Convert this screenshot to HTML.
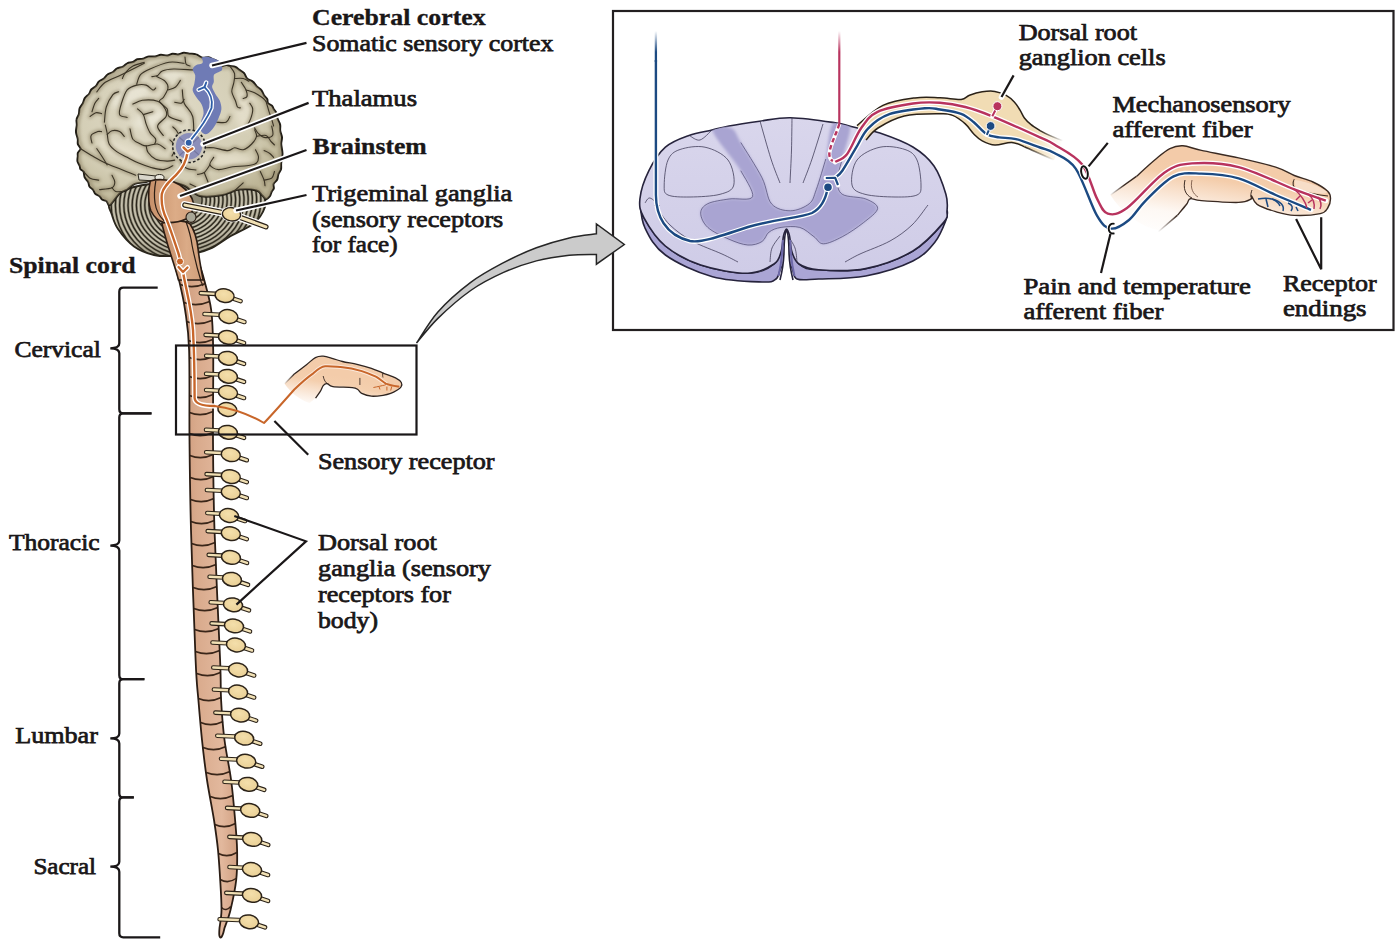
<!DOCTYPE html>
<html><head><meta charset="utf-8"><title>Somatosensory pathway</title>
<style>html,body{margin:0;padding:0;background:#fff;width:1400px;height:948px;overflow:hidden}</style>
</head><body>
<svg width="1400" height="948" viewBox="0 0 1400 948" style="display:block" font-family='"Liberation Serif", serif' fill="#1a1718"><defs>
<linearGradient id="cordg" x1="0" x2="1" y1="0" y2="0">
<stop offset="0" stop-color="#c89273"/><stop offset="0.35" stop-color="#d9aa8c"/><stop offset="0.75" stop-color="#e2b89d"/><stop offset="1" stop-color="#d2a183"/>
</linearGradient>
<radialGradient id="braing" cx="0.42" cy="0.4" r="0.65">
<stop offset="0" stop-color="#e0dbc8"/><stop offset="0.7" stop-color="#d3cdb4"/><stop offset="1" stop-color="#bdb596"/>
</radialGradient>
<linearGradient id="skin1" x1="0.02" y1="1" x2="0.3" y2="0.35">
<stop offset="0" stop-color="#f6d7bd" stop-opacity="0"/><stop offset="0.75" stop-color="#f4cfae"/><stop offset="1" stop-color="#f3ccaa"/>
</linearGradient>
<linearGradient id="drg" x1="0" x2="1" y1="0" y2="0">
<stop offset="0" stop-color="#f1dcb4"/><stop offset="0.85" stop-color="#f1dcb4"/><stop offset="1" stop-color="#f1dcb4" stop-opacity="0"/>
</linearGradient>
<linearGradient id="skin2" x1="0.0" y1="1" x2="0.32" y2="0.2">
<stop offset="0" stop-color="#f6d3b6" stop-opacity="0"/><stop offset="0.35" stop-color="#f6d3b6" stop-opacity="0.15"/><stop offset="0.85" stop-color="#f4cdab"/><stop offset="1" stop-color="#f3cba9"/>
</linearGradient>
<linearGradient id="wm" x1="0" x2="0" y1="0" y2="1">
<stop offset="0" stop-color="#d9d6ec"/><stop offset="1" stop-color="#cfcce7"/>
</linearGradient>
<radialGradient id="gang" cx="0.45" cy="0.4" r="0.6">
<stop offset="0" stop-color="#f4dfab"/><stop offset="1" stop-color="#eaD096"/>
</radialGradient>
<linearGradient id="ponsg" x1="0" x2="1" y1="0" y2="0">
<stop offset="0" stop-color="#c68f69"/><stop offset="0.6" stop-color="#dcac87"/><stop offset="1" stop-color="#d29f7a"/>
</linearGradient>
<linearGradient id="medg" x1="0" x2="1" y1="0" y2="0">
<stop offset="0" stop-color="#c38b66"/><stop offset="0.6" stop-color="#dbab87"/><stop offset="1" stop-color="#d09d78"/>
</linearGradient>
<filter id="blur15" x="-20%" y="-20%" width="140%" height="140%"><feGaussianBlur stdDeviation="1.6"/></filter>
<linearGradient id="fadeb" gradientUnits="userSpaceOnUse" x1="0" y1="31" x2="0" y2="52">
<stop offset="0" stop-color="#1c4a82" stop-opacity="0"/><stop offset="1" stop-color="#1c4a82"/>
</linearGradient>
<linearGradient id="fader" gradientUnits="userSpaceOnUse" x1="0" y1="31" x2="0" y2="52">
<stop offset="0" stop-color="#b8335e" stop-opacity="0"/><stop offset="1" stop-color="#b8335e"/>
</linearGradient>
<linearGradient id="fadeL" gradientUnits="userSpaceOnUse" x1="284" y1="384" x2="294" y2="374">
<stop offset="0" stop-color="#2e2420" stop-opacity="0"/><stop offset="1" stop-color="#2e2420"/>
</linearGradient>
<linearGradient id="fadeR" gradientUnits="userSpaceOnUse" x1="1110" y1="195" x2="1124" y2="185">
<stop offset="0" stop-color="#3a2a22" stop-opacity="0"/><stop offset="1" stop-color="#3a2a22"/>
</linearGradient>
<linearGradient id="fadeD1" gradientUnits="userSpaceOnUse" x1="1040" y1="130" x2="1063" y2="141">
<stop offset="0" stop-color="#2b2218"/><stop offset="1" stop-color="#2b2218" stop-opacity="0"/>
</linearGradient>
<linearGradient id="fadeD2" gradientUnits="userSpaceOnUse" x1="1024" y1="146" x2="1054" y2="160">
<stop offset="0" stop-color="#2b2218"/><stop offset="1" stop-color="#2b2218" stop-opacity="0"/>
</linearGradient>
<linearGradient id="fadeR2" gradientUnits="userSpaceOnUse" x1="1177" y1="215" x2="1158" y2="232">
<stop offset="0" stop-color="#3a2a22"/><stop offset="1" stop-color="#3a2a22" stop-opacity="0"/>
</linearGradient>
<filter id="blur1" x="-20%" y="-20%" width="140%" height="140%"><feGaussianBlur stdDeviation="1.5"/></filter>
<filter id="blur3" x="-50%" y="-50%" width="200%" height="200%"><feGaussianBlur stdDeviation="3"/></filter>
</defs><rect x="613" y="11" width="780.5" height="319" fill="none" stroke="#231f20" stroke-width="2.2"/><path d="M640.2,203.0 C640.4,204.7 640.8,219.3 645.0,228.0 C649.2,236.7 654.1,246.9 665.4,255.0 C676.6,263.1 696.4,272.2 712.5,276.7 C728.6,281.2 751.4,281.6 762.0,282.0 C772.6,282.4 772.8,281.3 776.0,279.0 C779.2,276.7 779.2,270.8 781.0,268.0 C782.8,265.2 784.7,262.0 786.5,262.0 C788.3,262.0 790.2,265.2 792.0,268.0 C793.8,270.8 792.6,277.2 797.0,279.0 C801.4,280.8 807.1,279.5 818.6,279.0 C830.1,278.5 850.0,279.0 865.7,276.0 C881.4,273.0 901.4,266.7 912.9,261.0 C924.4,255.3 929.5,248.8 935.0,242.0 C940.5,235.2 944.0,225.2 946.0,220.0 C948.0,214.8 947.4,210.4 947.0,210.8 C946.6,211.2 949.2,215.9 943.5,222.6 C937.8,229.3 925.9,243.3 912.9,251.0 C899.9,258.7 881.4,265.5 865.7,268.6 C850.0,271.7 829.7,270.6 818.6,269.8 C807.5,269.0 804.4,269.0 799.0,264.0 C793.6,259.0 790.7,240.0 786.5,240.0 C782.3,240.0 780.4,258.4 774.0,264.0 C767.6,269.6 760.1,273.1 747.9,273.3 C735.7,273.5 714.5,269.6 700.7,265.0 C687.0,260.4 674.9,253.8 665.4,246.0 C655.9,238.2 648.2,225.1 644.0,217.9 C639.8,210.7 640.0,201.3 640.2,203.0 Z" fill="#aaa5d5" stroke="#26233c" stroke-width="1.6"/><path d="M639.9,199.0 C640.7,191.1 644.6,179.3 648.9,170.7 C653.1,162.0 658.7,153.0 665.4,147.1 C672.1,141.2 681.2,138.2 689.0,135.4 C696.8,132.6 705.3,131.6 712.0,130.0 C718.7,128.4 721.1,127.5 729.0,126.0 C736.9,124.5 749.4,122.6 759.6,121.2 C769.8,119.8 778.1,117.5 790.3,117.7 C802.5,117.9 821.3,120.6 832.7,122.4 C844.1,124.2 850.7,126.5 858.6,128.3 C866.5,130.1 870.9,129.9 879.9,133.0 C888.9,136.1 903.9,141.5 912.9,147.0 C921.9,152.5 928.5,158.1 934.0,166.0 C939.5,173.9 943.7,186.8 945.9,194.3 C948.1,201.8 947.4,206.1 947.0,210.8 C946.6,215.5 949.2,215.9 943.5,222.6 C937.8,229.3 925.9,243.3 912.9,251.0 C899.9,258.7 881.4,265.5 865.7,268.6 C850.0,271.7 829.7,270.6 818.6,269.8 C807.5,269.0 803.4,267.0 799.0,264.0 C794.6,261.0 793.6,256.7 792.0,252.0 C790.4,247.3 790.4,239.8 789.5,236.0 C788.6,232.2 787.5,229.0 786.5,229.0 C785.5,229.0 784.4,232.2 783.5,236.0 C782.6,239.8 782.6,247.3 781.0,252.0 C779.4,256.7 779.5,260.4 774.0,264.0 C768.5,267.6 760.1,273.1 747.9,273.3 C735.7,273.5 714.5,269.6 700.7,265.0 C687.0,260.4 674.9,253.8 665.4,246.0 C655.9,238.2 648.2,225.7 644.0,217.9 C639.8,210.1 639.1,206.9 639.9,199.0 Z" fill="url(#wm)" stroke="#26233c" stroke-width="1.6"/><clipPath id="topclip"><path d="M639.9,199.0 C640.7,191.1 644.6,179.3 648.9,170.7 C653.1,162.0 658.7,153.0 665.4,147.1 C672.1,141.2 681.2,138.2 689.0,135.4 C696.8,132.6 705.3,131.6 712.0,130.0 C718.7,128.4 721.1,127.5 729.0,126.0 C736.9,124.5 749.4,122.6 759.6,121.2 C769.8,119.8 778.1,117.5 790.3,117.7 C802.5,117.9 821.3,120.6 832.7,122.4 C844.1,124.2 850.7,126.5 858.6,128.3 C866.5,130.1 870.9,129.9 879.9,133.0 C888.9,136.1 903.9,141.5 912.9,147.0 C921.9,152.5 928.5,158.1 934.0,166.0 C939.5,173.9 943.7,186.8 945.9,194.3 C948.1,201.8 947.4,206.1 947.0,210.8 C946.6,215.5 949.2,215.9 943.5,222.6 C937.8,229.3 925.9,243.3 912.9,251.0 C899.9,258.7 881.4,265.5 865.7,268.6 C850.0,271.7 829.7,270.6 818.6,269.8 C807.5,269.0 803.4,267.0 799.0,264.0 C794.6,261.0 793.6,256.7 792.0,252.0 C790.4,247.3 790.4,239.8 789.5,236.0 C788.6,232.2 787.5,229.0 786.5,229.0 C785.5,229.0 784.4,232.2 783.5,236.0 C782.6,239.8 782.6,247.3 781.0,252.0 C779.4,256.7 779.5,260.4 774.0,264.0 C768.5,267.6 760.1,273.1 747.9,273.3 C735.7,273.5 714.5,269.6 700.7,265.0 C687.0,260.4 674.9,253.8 665.4,246.0 C655.9,238.2 648.2,225.7 644.0,217.9 C639.8,210.1 639.1,206.9 639.9,199.0 Z"/></clipPath><g clip-path="url(#topclip)"><path d="M712.5,130.6 C710.9,123.5 726.7,126.3 731.4,128.3 C736.1,130.3 735.7,134.2 740.8,142.5 C745.9,150.8 756.9,167.6 762.0,177.8 C767.1,188.0 766.8,198.3 771.5,203.8 C776.2,209.3 784.1,210.8 790.4,210.8 C796.7,210.8 804.9,207.3 809.2,203.8 C813.5,200.3 813.5,197.1 816.3,189.6 C819.1,182.1 823.0,170.0 825.8,159.0 C828.5,148.0 828.8,129.1 832.8,123.6 C836.8,118.1 848.5,119.9 850.0,126.0 C851.5,132.1 844.1,151.0 842.0,160.0 C839.9,169.0 837.5,174.3 837.5,180.0 C837.5,185.7 837.6,191.1 842.3,194.3 C847.0,197.5 859.9,196.6 865.8,199.0 C871.7,201.4 878.0,204.6 877.6,208.5 C877.2,212.4 869.4,217.9 863.5,222.6 C857.6,227.3 849.0,233.2 842.3,236.7 C835.6,240.2 828.1,243.8 823.4,243.8 C818.7,243.8 817.9,239.4 814.0,236.7 C810.1,234.0 805.3,228.9 799.8,227.4 C794.3,225.9 786.1,226.6 781.0,227.4 C775.9,228.2 772.3,229.7 769.1,232.0 C765.9,234.3 765.5,239.3 762.0,241.5 C758.5,243.7 753.4,245.4 747.9,245.0 C742.4,244.6 735.7,242.1 729.0,239.2 C722.3,236.3 712.5,231.7 707.8,227.4 C703.1,223.1 700.7,217.1 700.7,213.2 C700.7,209.2 703.1,206.1 707.8,203.7 C712.5,201.3 721.5,200.2 729.0,199.0 C736.5,197.8 750.6,201.4 752.6,196.7 C754.6,192.0 747.5,181.7 740.8,170.7 C734.1,159.7 714.1,137.7 712.5,130.6 Z" fill="#a9a4d2" stroke="none" filter="url(#blur1)"/></g><path d="M740.8,142.5 C744.3,148.4 756.9,167.6 762.0,177.8 C767.1,188.0 766.8,198.3 771.5,203.8 C776.2,209.3 784.1,210.8 790.4,210.8 C796.7,210.8 804.9,207.3 809.2,203.8 C813.5,200.3 813.5,197.1 816.3,189.6 C819.1,182.1 824.2,164.1 825.8,159.0" fill="none" stroke="#4a4670" stroke-width="0.7"/><path d="M842.0,160.0 C841.2,163.3 837.5,174.3 837.5,180.0 C837.5,185.7 837.6,191.1 842.3,194.3 C847.0,197.5 859.9,196.6 865.8,199.0 C871.7,201.4 878.0,204.6 877.6,208.5 C877.2,212.4 869.4,217.9 863.5,222.6 C857.6,227.3 849.0,233.2 842.3,236.7 C835.6,240.2 828.1,243.8 823.4,243.8 C818.7,243.8 817.9,239.4 814.0,236.7 C810.1,234.0 805.3,228.9 799.8,227.4 C794.3,225.9 786.1,226.6 781.0,227.4 C775.9,228.2 772.3,229.7 769.1,232.0 C765.9,234.3 765.5,239.3 762.0,241.5 C758.5,243.7 753.4,245.4 747.9,245.0 C742.4,244.6 735.7,242.1 729.0,239.2 C722.3,236.3 712.5,231.7 707.8,227.4 C703.1,223.1 700.7,217.1 700.7,213.2 C700.7,209.2 703.1,206.1 707.8,203.7 C712.5,201.3 721.5,200.2 729.0,199.0 C736.5,197.8 750.6,201.4 752.6,196.7 C754.6,192.0 742.8,175.0 740.8,170.7" fill="none" stroke="#4a4670" stroke-width="0.7"/><path d="M664.2,185.0 C664.2,179.2 665.4,165.9 668.0,160.0 C670.6,154.1 673.8,151.6 680.0,149.5 C686.2,147.4 697.0,145.4 705.0,147.2 C713.0,148.9 723.2,153.7 728.0,160.0 C732.8,166.3 735.1,179.3 733.8,185.0 C732.5,190.7 727.3,192.3 720.0,194.3 C712.7,196.3 698.7,196.9 690.0,197.0 C681.3,197.1 672.3,197.0 668.0,195.0 C663.7,193.0 664.2,190.8 664.2,185.0 Z" fill="none" stroke="#3a3652" stroke-width="0.75"/><path d="M921.0,185.0 C921.0,179.2 919.7,165.9 917.0,160.0 C914.3,154.1 911.2,151.6 905.0,149.5 C898.8,147.4 888.0,145.4 880.0,147.2 C872.0,148.9 861.7,153.7 857.0,160.0 C852.3,166.3 850.7,179.3 852.0,185.0 C853.3,190.7 857.8,192.3 865.0,194.3 C872.2,196.3 886.3,196.9 895.0,197.0 C903.7,197.1 912.7,197.0 917.0,195.0 C921.3,193.0 921.0,190.8 921.0,185.0 Z" fill="none" stroke="#3a3652" stroke-width="0.75"/><path d="M654.6,205.0 C657.2,208.3 663.8,219.0 670.0,225.0 C676.2,231.0 683.3,236.2 692.0,241.0 C700.7,245.8 714.3,250.5 722.0,254.0 C729.7,257.5 735.3,260.7 738.0,262.0" fill="none" stroke="#3a3652" stroke-width="0.75"/><path d="M928.0,205.0 C925.3,208.3 918.3,219.0 912.0,225.0 C905.7,231.0 898.7,236.2 890.0,241.0 C881.3,245.8 867.5,250.5 860.0,254.0 C852.5,257.5 847.5,260.7 845.0,262.0" fill="none" stroke="#3a3652" stroke-width="0.75"/><path d="M645.0,203.0 C645.8,202.2 647.5,197.5 650.0,198.0 C652.5,198.5 658.3,204.7 660.0,206.0" fill="none" stroke="#3a3652" stroke-width="0.75"/><path d="M760.0,121.0 C761.8,127.3 767.7,148.7 771.0,159.0 C774.3,169.3 778.5,179.0 780.0,183.0" fill="none" stroke="#3a3652" stroke-width="0.75"/><path d="M792.0,118.0 C791.9,123.3 791.8,139.2 791.5,150.0 C791.2,160.8 790.2,177.5 790.0,183.0" fill="none" stroke="#3a3652" stroke-width="0.75"/><path d="M823.0,124.0 C821.2,129.8 815.3,149.2 812.0,159.0 C808.7,168.8 804.5,179.0 803.0,183.0" fill="none" stroke="#3a3652" stroke-width="0.75"/><path d="M770.0,262.0 C770.3,259.7 770.3,252.3 772.0,248.0 C773.7,243.7 778.7,238.0 780.0,236.0" fill="none" stroke="#3a3652" stroke-width="0.75"/><path d="M797.0,262.0 C796.7,259.7 796.5,252.3 795.0,248.0 C793.5,243.7 789.2,238.0 788.0,236.0" fill="none" stroke="#3a3652" stroke-width="0.75"/><path d="M690.0,136.0 C691.7,136.7 696.3,141.0 700.0,140.0 C703.7,139.0 710.0,131.7 712.0,130.0" fill="none" stroke="#3a3652" stroke-width="0.75"/><path d="M786.5,230 C784.5,233 784.2,240 784,252 C783.8,262 782,272 780,280 L793,280 C791,272 789.2,262 789,252 C788.8,240 788.5,233 786.5,230 Z" fill="#fff"/><path d="M780,280 C782,272 783.8,262 784,252 C784.2,240 784.5,233 786.5,230 C788.5,233 788.8,240 789,252 C789.2,262 791,272 793,280" fill="none" stroke="#26233c" stroke-width="1.6"/><path d="M782.8,240 C782.5,252 781.5,264 778.5,276" fill="none" stroke="#6d68a8" stroke-width="2"/><path d="M790.2,240 C790.5,252 791.5,264 794.5,276" fill="none" stroke="#6d68a8" stroke-width="2"/><path d="M857.0,125.7 C861.3,122.3 873.2,110.0 882.9,105.4 C892.6,100.8 905.5,99.2 915.0,97.9 C924.5,96.6 932.3,97.5 940.0,97.7 C947.7,98.0 956.2,99.8 961.1,99.4 C966.0,99.0 966.0,96.5 969.5,95.2 C973.0,93.9 978.0,92.4 982.2,91.8 C986.4,91.2 991.0,90.8 994.9,91.4 C998.8,92.0 1002.6,93.5 1005.8,95.2 C1009.0,97.0 1011.9,99.4 1014.3,101.9 C1016.7,104.4 1018.5,107.7 1020.2,110.4 C1021.9,113.1 1022.6,115.6 1024.4,118.0 C1026.2,120.4 1028.5,122.6 1031.1,124.7 C1033.7,126.8 1034.7,127.9 1040.0,130.6 C1045.3,133.3 1059.0,139.0 1062.8,140.7 L1054.0,160.0 C1049.1,157.8 1031.5,149.6 1024.4,146.7 C1017.4,143.8 1016.6,142.7 1011.7,142.4 C1006.8,142.1 999.8,145.3 994.9,145.0 C990.0,144.7 985.7,142.6 982.2,140.8 C978.7,139.0 976.6,136.8 973.8,134.0 C971.0,131.2 968.8,127.0 965.3,123.9 C961.8,120.8 956.9,117.1 952.7,115.4 C948.5,113.7 948.1,113.7 940.0,113.8 C931.9,113.9 914.6,113.6 904.3,116.0 C894.0,118.4 884.4,124.0 878.0,128.0 C871.6,132.0 868.0,138.0 866.0,140.0 Z" fill="url(#drg)" stroke="none"/><path d="M857.0,125.7 C861.3,122.3 873.2,110.0 882.9,105.4 C892.6,100.8 905.5,99.2 915.0,97.9 C924.5,96.6 932.3,97.5 940.0,97.7 C947.7,98.0 956.2,99.8 961.1,99.4 C966.0,99.0 966.0,96.5 969.5,95.2 C973.0,93.9 978.0,92.4 982.2,91.8 C986.4,91.2 991.0,90.8 994.9,91.4 C998.8,92.0 1002.6,93.5 1005.8,95.2 C1009.0,97.0 1011.9,99.4 1014.3,101.9 C1016.7,104.4 1018.5,107.7 1020.2,110.4 C1021.9,113.1 1022.6,115.6 1024.4,118.0 C1026.2,120.4 1028.5,122.6 1031.1,124.7 C1033.7,126.8 1038.5,129.6 1040.0,130.6" fill="none" stroke="#2b2218" stroke-width="1.5"/><path d="M1024.4,146.7 C1022.3,146.0 1016.6,142.7 1011.7,142.4 C1006.8,142.1 999.8,145.3 994.9,145.0 C990.0,144.7 985.7,142.6 982.2,140.8 C978.7,139.0 976.6,136.8 973.8,134.0 C971.0,131.2 968.8,127.0 965.3,123.9 C961.8,120.8 956.9,117.1 952.7,115.4 C948.5,113.7 948.1,113.7 940.0,113.8 C931.9,113.9 914.6,113.6 904.3,116.0 C894.0,118.4 884.4,124.0 878.0,128.0 C871.6,132.0 868.0,138.0 866.0,140.0" fill="none" stroke="#2b2218" stroke-width="1.5"/><path d="M1040,130.6 C1046,134 1054,137.5 1062.8,140.7" fill="none" stroke="url(#fadeD1)" stroke-width="1.5"/><path d="M1024.4,146.7 C1032,150 1043,155 1054,160" fill="none" stroke="url(#fadeD2)" stroke-width="1.5"/><path d="M1110.4,195.0 C1114.7,191.9 1129.0,182.3 1136.4,176.4 C1143.8,170.5 1149.4,164.3 1155.0,159.7 C1160.6,155.1 1165.2,150.9 1169.9,148.6 C1174.6,146.3 1177.7,145.5 1182.9,145.8 C1188.2,146.1 1192.1,148.4 1201.4,150.4 C1210.7,152.4 1226.2,155.1 1238.6,157.9 C1251.0,160.7 1266.4,164.2 1275.7,167.1 C1285.0,170.0 1288.1,173.0 1294.3,175.5 C1300.5,178.0 1307.3,179.4 1312.9,182.0 C1318.5,184.6 1324.8,188.5 1327.7,191.3 C1330.6,194.1 1330.5,195.9 1330.5,198.7 C1330.5,201.5 1329.4,205.5 1327.7,208.0 C1326.0,210.5 1325.9,212.4 1320.3,213.6 C1314.7,214.8 1301.7,215.7 1294.3,215.4 C1286.9,215.1 1281.9,213.5 1275.7,211.7 C1269.5,209.8 1261.1,206.9 1257.1,204.3 C1253.1,201.7 1252.6,196.9 1251.6,196.0 C1250.6,195.1 1253.2,197.9 1251.0,199.0 C1248.8,200.1 1246.9,202.1 1238.6,202.4 C1230.3,202.7 1209.5,201.2 1201.4,200.6 C1193.4,200.0 1192.8,198.1 1190.3,198.7 C1187.8,199.3 1188.8,201.5 1186.6,204.3 C1184.4,207.1 1181.6,211.1 1177.3,215.4 C1173.0,219.7 1163.4,227.8 1160.6,230.3 C1140,228 1120,210 1110.4,195 Z" fill="url(#skin2)" stroke="none"/><path d="M1136.4,176.4 C1139.5,173.6 1149.4,164.3 1155.0,159.7 C1160.6,155.1 1165.2,150.9 1169.9,148.6 C1174.6,146.3 1177.7,145.5 1182.9,145.8 C1188.2,146.1 1192.1,148.4 1201.4,150.4 C1210.7,152.4 1226.2,155.1 1238.6,157.9 C1251.0,160.7 1266.4,164.2 1275.7,167.1 C1285.0,170.0 1288.1,173.0 1294.3,175.5 C1300.5,178.0 1307.3,179.4 1312.9,182.0 C1318.5,184.6 1324.8,188.5 1327.7,191.3 C1330.6,194.1 1330.5,195.9 1330.5,198.7 C1330.5,201.5 1329.4,205.5 1327.7,208.0 C1326.0,210.5 1325.9,212.4 1320.3,213.6 C1314.7,214.8 1301.7,215.7 1294.3,215.4 C1286.9,215.1 1281.9,213.5 1275.7,211.7 C1269.5,209.8 1261.1,206.9 1257.1,204.3 C1253.1,201.7 1252.6,196.9 1251.6,196.0 C1250.6,195.1 1253.2,197.9 1251.0,199.0 C1248.8,200.1 1246.9,202.1 1238.6,202.4 C1230.3,202.7 1209.5,201.2 1201.4,200.6 C1193.4,200.0 1192.8,198.1 1190.3,198.7 C1187.8,199.3 1188.8,201.5 1186.6,204.3 C1184.4,207.1 1178.8,213.6 1177.3,215.4" fill="none" stroke="#3a2a22" stroke-width="1.4"/><path d="M1110.4,195 L1136.4,176.4" stroke="url(#fadeR)" stroke-width="1.4"/><path d="M1177.3,215.4 L1158,232" stroke="url(#fadeR2)" stroke-width="1.4"/><path d="M1294.3,179.2 C1292,183 1293,187 1296,189 C1305,192 1318,195 1328,196" fill="none" stroke="#3a2a22" stroke-width="1.1"/><path d="M1294.3,180 C1305,181 1320,186 1327,192 C1326,196 1310,192 1296,189 Z" fill="#f7e2d0" opacity="0.8"/><path d="M1185,180 C1183,188 1185,195 1192,198" fill="none" stroke="#3a2a22" stroke-width="1"/><path d="M1192,180 C1190,188 1193,194 1198,197" fill="none" stroke="#6a4a3a" stroke-width="0.8"/><path d="M1252,190 C1250,195 1251,198 1252,199" fill="none" stroke="#3a2a22" stroke-width="1"/><path d="M655.9,60 L655.9,195 C656,215 665,235 690,241 C700,243 715,238 748,227 C775,219 800,218 812,213 C822,208 826,198 828,187" fill="none" stroke="#fff" stroke-width="5" stroke-linecap="round" stroke-linejoin="round"/><path d="M655.9,60 L655.9,195 C656,215 665,235 690,241 C700,243 715,238 748,227 C775,219 800,218 812,213 C822,208 826,198 828,187" fill="none" stroke="#1c4a82" stroke-width="2.4" stroke-linecap="butt" stroke-linejoin="round"/><path d="M655.9,31 L655.9,62" stroke="url(#fadeb)" stroke-width="2.3"/><circle cx="828" cy="187.2" r="4.4" fill="#1c4a82" stroke="#fff" stroke-width="1.2"/><path d="M835.2,177.8 C836.4,176.6 838.8,175.8 842.3,170.7 C845.8,165.6 852.1,154.3 856.4,147.2 C860.7,140.1 862.7,133.8 868.2,128.3 C873.7,122.8 880.0,117.5 889.4,114.2 C898.8,110.9 916.4,109.1 924.8,108.3 C933.2,107.5 934.0,108.6 940.0,109.5 C946.0,110.4 955.5,111.7 961.1,113.8 C966.7,115.9 969.6,118.8 973.8,122.2 C978.0,125.6 982.2,131.5 986.4,134.0 C990.6,136.5 994.2,136.6 999.1,137.4 C1004.0,138.2 1009.2,137.4 1016.0,139.1 C1022.8,140.8 1033.6,145.2 1040.0,147.5 C1046.4,149.8 1048.3,149.5 1054.3,153.0 C1060.2,156.5 1068.6,158.2 1075.7,168.6 C1082.8,179.0 1091.1,205.7 1097.0,215.7 C1102.9,225.7 1105.7,227.9 1111.0,228.6 C1116.3,229.3 1123.2,224.7 1129.0,220.0 C1134.8,215.3 1138.3,207.9 1145.7,200.6 C1153.1,193.3 1164.3,180.9 1173.6,176.4 C1182.9,171.9 1190.6,173.3 1201.4,173.6 C1212.2,173.9 1226.2,174.7 1238.6,178.3 C1251.0,181.9 1263.6,189.8 1275.7,195.0 C1287.8,200.2 1305.1,207.3 1311.0,209.8" fill="none" stroke="#fff" stroke-width="5" stroke-linecap="round" stroke-linejoin="round"/><path d="M835.2,177.8 C836.4,176.6 838.8,175.8 842.3,170.7 C845.8,165.6 852.1,154.3 856.4,147.2 C860.7,140.1 862.7,133.8 868.2,128.3 C873.7,122.8 880.0,117.5 889.4,114.2 C898.8,110.9 916.4,109.1 924.8,108.3 C933.2,107.5 934.0,108.6 940.0,109.5 C946.0,110.4 955.5,111.7 961.1,113.8 C966.7,115.9 969.6,118.8 973.8,122.2 C978.0,125.6 982.2,131.5 986.4,134.0 C990.6,136.5 994.2,136.6 999.1,137.4 C1004.0,138.2 1009.2,137.4 1016.0,139.1 C1022.8,140.8 1033.6,145.2 1040.0,147.5 C1046.4,149.8 1048.3,149.5 1054.3,153.0 C1060.2,156.5 1068.6,158.2 1075.7,168.6 C1082.8,179.0 1091.1,205.7 1097.0,215.7 C1102.9,225.7 1105.7,227.9 1111.0,228.6 C1116.3,229.3 1123.2,224.7 1129.0,220.0 C1134.8,215.3 1138.3,207.9 1145.7,200.6 C1153.1,193.3 1164.3,180.9 1173.6,176.4 C1182.9,171.9 1190.6,173.3 1201.4,173.6 C1212.2,173.9 1226.2,174.7 1238.6,178.3 C1251.0,181.9 1263.6,189.8 1275.7,195.0 C1287.8,200.2 1305.1,207.3 1311.0,209.8" fill="none" stroke="#1c4a82" stroke-width="2.4" stroke-linecap="butt" stroke-linejoin="round"/><path d="M825.8,178 L835.2,177.8 L838,185" fill="none" stroke="#fff" stroke-width="4.6" stroke-linecap="round" stroke-linejoin="round"/><path d="M825.8,178 L835.2,177.8 L838,185" fill="none" stroke="#1c4a82" stroke-width="2.2" stroke-linecap="butt" stroke-linejoin="round"/><path d="M839.3,31 L839.3,125" fill="none" stroke="url(#fader)" stroke-width="2.2"/><path d="M839.3,124 C836,135 830,145 829.3,154 C829.5,159 832,161.8 836,161.8" fill="none" stroke="#fff" stroke-width="4"/><path d="M839.3,124 C836,135 830,145 829.3,154 C829.5,159 832,161.8 836,161.8" fill="none" stroke="#b8335e" stroke-width="2.4" stroke-dasharray="4.5,3"/><path d="M835.2,161.8 C837.2,160.5 842.7,159.8 847.0,154.2 C851.3,148.6 856.0,135.4 861.1,128.3 C866.2,121.2 869.0,115.9 877.6,111.8 C886.2,107.7 902.6,105.0 913.0,103.5 C923.4,102.0 931.3,102.2 940.0,102.8 C948.7,103.4 956.6,104.8 965.3,107.0 C974.0,109.2 979.8,111.2 992.3,116.3 C1004.8,121.4 1029.7,132.7 1040.0,137.4 C1050.3,142.1 1047.3,140.0 1054.3,144.5 C1061.3,149.0 1074.9,155.3 1082.0,164.3 C1089.1,173.3 1092.7,190.4 1097.0,198.6 C1101.3,206.8 1102.8,212.0 1107.8,213.6 C1112.8,215.2 1117.6,214.8 1127.0,208.0 C1136.4,201.2 1153.5,180.1 1164.3,172.7 C1175.1,165.3 1179.6,164.3 1192.0,163.4 C1204.4,162.5 1221.5,162.8 1238.6,167.1 C1255.6,171.4 1279.8,183.8 1294.3,189.4 C1308.8,195.0 1320.5,198.7 1325.8,200.6" fill="none" stroke="#fff" stroke-width="5" stroke-linecap="round" stroke-linejoin="round"/><path d="M835.2,161.8 C837.2,160.5 842.7,159.8 847.0,154.2 C851.3,148.6 856.0,135.4 861.1,128.3 C866.2,121.2 869.0,115.9 877.6,111.8 C886.2,107.7 902.6,105.0 913.0,103.5 C923.4,102.0 931.3,102.2 940.0,102.8 C948.7,103.4 956.6,104.8 965.3,107.0 C974.0,109.2 979.8,111.2 992.3,116.3 C1004.8,121.4 1029.7,132.7 1040.0,137.4 C1050.3,142.1 1047.3,140.0 1054.3,144.5 C1061.3,149.0 1074.9,155.3 1082.0,164.3 C1089.1,173.3 1092.7,190.4 1097.0,198.6 C1101.3,206.8 1102.8,212.0 1107.8,213.6 C1112.8,215.2 1117.6,214.8 1127.0,208.0 C1136.4,201.2 1153.5,180.1 1164.3,172.7 C1175.1,165.3 1179.6,164.3 1192.0,163.4 C1204.4,162.5 1221.5,162.8 1238.6,167.1 C1255.6,171.4 1279.8,183.8 1294.3,189.4 C1308.8,195.0 1320.5,198.7 1325.8,200.6" fill="none" stroke="#b8335e" stroke-width="2.4" stroke-linecap="butt" stroke-linejoin="round"/><path d="M992.3,116.3 L997.4,106.2" fill="none" stroke="#fff" stroke-width="4.2" stroke-linecap="round" stroke-linejoin="round"/><path d="M992.3,116.3 L997.4,106.2" fill="none" stroke="#b8335e" stroke-width="2" stroke-linecap="butt" stroke-linejoin="round"/><circle cx="997.4" cy="106.2" r="4.5" fill="#b8335e" stroke="#fff" stroke-width="1"/><path d="M986.8,134.9 L990.6,126" fill="none" stroke="#fff" stroke-width="4.2" stroke-linecap="round" stroke-linejoin="round"/><path d="M986.8,134.9 L990.6,126" fill="none" stroke="#1c4a82" stroke-width="2" stroke-linecap="butt" stroke-linejoin="round"/><circle cx="990.6" cy="126" r="4.4" fill="#1c4a82" stroke="#fff" stroke-width="1"/><ellipse cx="1084.5" cy="172.5" rx="3.4" ry="6.6" fill="none" stroke="#fff" stroke-width="3.6" transform="rotate(-12 1084.5 172.5)"/><ellipse cx="1084.5" cy="172.5" rx="3.2" ry="6.4" fill="none" stroke="#111" stroke-width="1.9" transform="rotate(-12 1084.5 172.5)"/><path d="M1114.5,223.8 C1107,222 1106.5,235 1114.5,233.4" fill="none" stroke="#fff" stroke-width="4"/><path d="M1114.5,223.8 C1107,222 1106.5,235 1114.5,233.4" fill="none" stroke="#111" stroke-width="1.9"/><path d="M1294,189 C1300,194 1305,200 1307,208" fill="none" stroke="#b8335e" stroke-width="1.5"/><path d="M1308,194 C1313,198 1315,203 1314,209" fill="none" stroke="#b8335e" stroke-width="1.5"/><path d="M1318,197 C1321,201 1322,205 1320,209" fill="none" stroke="#b8335e" stroke-width="1.5"/><path d="M1300,196 L1296,200" fill="none" stroke="#b8335e" stroke-width="1.5"/><path d="M1312,200 L1308,203" fill="none" stroke="#b8335e" stroke-width="1.5"/><path d="M1258,199 C1268,197 1276,198 1280,206" fill="none" stroke="#1c4a82" stroke-width="1.5"/><path d="M1272,199 C1279,201 1285,204 1283,211" fill="none" stroke="#1c4a82" stroke-width="1.5"/><path d="M1288,203 C1293,205 1293,208 1291,211" fill="none" stroke="#1c4a82" stroke-width="1.5"/><path d="M1266,199 L1268,207" fill="none" stroke="#1c4a82" stroke-width="1.5"/><path d="M1296,207 L1298,211" fill="none" stroke="#1c4a82" stroke-width="1.5"/><path d="M1001.5,97 L1013.6,75.4" fill="none" stroke="#fff" stroke-width="5.5" stroke-linecap="round" stroke-linejoin="round"/><path d="M1001.5,97 L1013.6,75.4" fill="none" stroke="#1a1718" stroke-width="2.2" stroke-linecap="butt" stroke-linejoin="miter"/><path d="M1088.6,166.4 L1107.8,142.9" fill="none" stroke="#1a1718" stroke-width="2.2" stroke-linecap="butt" stroke-linejoin="miter"/><path d="M1110.4,234 L1101,273" fill="none" stroke="#1a1718" stroke-width="2.2" stroke-linecap="butt" stroke-linejoin="miter"/><path d="M1296.1,219.1 L1321.2,269.3 L1321.2,217.3" fill="none" stroke="#1a1718" stroke-width="2.2" stroke-linecap="butt" stroke-linejoin="miter"/><clipPath id="cbclip"><path d="M109.0,203.1 C107.6,206.8 110.1,209.7 111.6,214.0 C113.1,218.3 114.3,223.6 118.0,229.0 C121.7,234.4 128.0,242.1 134.0,246.4 C140.0,250.7 147.3,253.4 154.0,255.0 C160.7,256.6 166.9,256.3 174.0,256.0 C181.1,255.7 190.1,254.3 196.4,253.0 C202.7,251.7 206.3,250.8 212.0,248.0 C217.7,245.2 223.9,240.1 230.8,236.0 C237.7,231.9 247.9,228.4 253.6,223.6 C259.3,218.8 263.4,211.7 265.0,207.0 C266.6,202.3 265.8,198.6 263.3,195.4 C260.8,192.2 257.2,189.6 250.0,188.0 C242.8,186.4 230.0,186.7 220.0,186.0 C210.0,185.3 201.7,184.3 190.0,184.0 C178.3,183.7 161.7,182.7 150.0,184.0 C138.3,185.3 126.8,188.8 120.0,192.0 C113.2,195.2 110.4,199.4 109.0,203.1 Z"/></clipPath><path d="M109.0,203.1 C107.6,206.8 110.1,209.7 111.6,214.0 C113.1,218.3 114.3,223.6 118.0,229.0 C121.7,234.4 128.0,242.1 134.0,246.4 C140.0,250.7 147.3,253.4 154.0,255.0 C160.7,256.6 166.9,256.3 174.0,256.0 C181.1,255.7 190.1,254.3 196.4,253.0 C202.7,251.7 206.3,250.8 212.0,248.0 C217.7,245.2 223.9,240.1 230.8,236.0 C237.7,231.9 247.9,228.4 253.6,223.6 C259.3,218.8 263.4,211.7 265.0,207.0 C266.6,202.3 265.8,198.6 263.3,195.4 C260.8,192.2 257.2,189.6 250.0,188.0 C242.8,186.4 230.0,186.7 220.0,186.0 C210.0,185.3 201.7,184.3 190.0,184.0 C178.3,183.7 161.7,182.7 150.0,184.0 C138.3,185.3 126.8,188.8 120.0,192.0 C113.2,195.2 110.4,199.4 109.0,203.1 Z" fill="#8e8976"/><g clip-path="url(#cbclip)" fill="none" stroke="#c6c1ae" stroke-width="1.6"><path d="M189.9,225.4 C189.1,225.3 186.5,225.0 184.9,224.6 C183.3,224.2 181.7,223.6 180.3,222.9 C178.8,222.2 177.4,221.3 176.1,220.4 C174.8,219.5 173.7,218.4 172.7,217.2 C171.7,216.1 170.8,214.8 170.1,213.5 C169.4,212.2 168.8,210.8 168.5,209.4 C168.1,208.0 167.9,206.6 167.9,205.1 C167.9,203.7 168.1,202.3 168.4,200.9 C168.7,199.5 169.3,198.1 169.9,196.7 C170.6,195.4 171.5,194.2 172.5,193.0 C173.4,191.8 174.6,190.8 175.8,189.8 C177.1,188.8 179.3,187.7 179.9,187.3"/><path d="M189.5,229.0 C188.6,228.8 185.6,228.5 183.7,228.0 C181.8,227.5 179.9,226.8 178.2,226.0 C176.5,225.2 174.8,224.2 173.3,223.1 C171.9,222.0 170.5,220.7 169.3,219.4 C168.1,218.0 167.1,216.5 166.3,215.0 C165.4,213.5 164.8,211.8 164.4,210.2 C163.9,208.6 163.7,206.9 163.7,205.2 C163.7,203.5 163.9,201.8 164.3,200.1 C164.7,198.5 165.3,196.8 166.1,195.3 C166.9,193.8 167.9,192.3 169.1,190.9 C170.2,189.6 171.6,188.3 173.0,187.1 C174.5,186.0 177.0,184.7 177.8,184.2"/><path d="M189.2,232.5 C188.0,232.3 184.6,232.0 182.5,231.4 C180.3,230.8 178.1,230.1 176.2,229.1 C174.2,228.2 172.3,227.0 170.6,225.8 C168.9,224.5 167.3,223.0 165.9,221.5 C164.6,220.0 163.4,218.2 162.4,216.5 C161.5,214.7 160.8,212.9 160.3,211.0 C159.8,209.1 159.5,207.1 159.5,205.2 C159.5,203.3 159.7,201.3 160.2,199.4 C160.6,197.5 161.3,195.6 162.3,193.9 C163.2,192.1 164.3,190.4 165.7,188.8 C167.0,187.3 168.5,185.8 170.2,184.5 C171.9,183.2 174.8,181.6 175.8,181.1"/><path d="M188.8,236.1 C187.5,235.9 183.7,235.5 181.2,234.8 C178.8,234.2 176.4,233.3 174.1,232.2 C171.9,231.2 169.7,229.9 167.8,228.5 C165.9,227.0 164.1,225.4 162.6,223.6 C161.0,221.9 159.7,220.0 158.6,218.0 C157.6,216.0 156.7,213.9 156.2,211.8 C155.6,209.6 155.3,207.4 155.3,205.2 C155.3,203.1 155.5,200.8 156.1,198.7 C156.6,196.6 157.4,194.4 158.4,192.4 C159.4,190.4 160.7,188.5 162.2,186.7 C163.7,185.0 165.5,183.3 167.4,181.8 C169.3,180.4 172.6,178.6 173.6,178.0"/><path d="M188.4,239.6 C187.0,239.4 182.7,238.9 180.0,238.2 C177.3,237.5 174.6,236.5 172.1,235.4 C169.6,234.2 167.2,232.7 165.0,231.1 C162.9,229.5 160.9,227.7 159.2,225.8 C157.5,223.8 156.0,221.7 154.8,219.5 C153.6,217.3 152.7,214.9 152.1,212.5 C151.5,210.2 151.1,207.7 151.1,205.3 C151.1,202.8 151.4,200.3 151.9,198.0 C152.5,195.6 153.4,193.2 154.6,191.0 C155.7,188.8 157.2,186.6 158.8,184.6 C160.5,182.7 162.5,180.8 164.6,179.2 C166.7,177.6 170.4,175.6 171.5,174.9"/><path d="M188.1,243.2 C186.5,242.9 181.8,242.4 178.8,241.6 C175.7,240.9 172.8,239.8 170.0,238.5 C167.3,237.2 164.6,235.6 162.3,233.8 C159.9,232.1 157.7,230.0 155.8,227.9 C153.9,225.7 152.3,223.4 151.0,220.9 C149.7,218.5 148.7,215.9 148.0,213.3 C147.3,210.7 146.9,208.0 146.9,205.3 C146.9,202.6 147.2,199.9 147.8,197.2 C148.5,194.6 149.5,192.0 150.7,189.6 C152.0,187.1 153.6,184.7 155.4,182.6 C157.3,180.4 159.4,178.3 161.8,176.5 C164.1,174.8 168.2,172.6 169.4,171.8"/><path d="M187.7,246.7 C186.0,246.5 180.8,245.9 177.5,245.1 C174.2,244.2 171.0,243.0 168.0,241.6 C165.0,240.2 162.1,238.4 159.5,236.5 C156.9,234.6 154.5,232.4 152.5,230.0 C150.4,227.7 148.6,225.1 147.2,222.4 C145.7,219.8 144.6,216.9 143.9,214.1 C143.1,211.2 142.7,208.2 142.7,205.3 C142.7,202.4 143.0,199.4 143.7,196.5 C144.4,193.7 145.5,190.8 146.9,188.1 C148.3,185.4 150.0,182.8 152.0,180.5 C154.0,178.1 156.4,175.9 159.0,173.9 C161.5,171.9 166.0,169.6 167.3,168.7"/><path d="M187.3,250.3 C185.5,250.0 179.9,249.4 176.3,248.5 C172.7,247.5 169.2,246.3 165.9,244.7 C162.7,243.2 159.5,241.3 156.7,239.2 C153.9,237.1 151.3,234.7 149.1,232.2 C146.9,229.6 144.9,226.8 143.3,223.9 C141.8,221.0 140.6,217.9 139.8,214.8 C139.0,211.7 138.5,208.5 138.5,205.3 C138.5,202.2 138.9,198.9 139.6,195.8 C140.4,192.7 141.5,189.6 143.0,186.7 C144.5,183.8 146.4,181.0 148.6,178.4 C150.8,175.8 153.4,173.4 156.1,171.2 C158.9,169.1 163.7,166.6 165.2,165.6"/><path d="M187.0,253.9 C185.0,253.5 178.9,252.9 175.0,251.9 C171.2,250.9 167.4,249.5 163.9,247.8 C160.4,246.2 157.0,244.1 154.0,241.9 C150.9,239.6 148.1,237.0 145.7,234.3 C143.3,231.5 141.2,228.5 139.5,225.4 C137.9,222.3 136.5,219.0 135.7,215.6 C134.8,212.3 134.3,208.8 134.3,205.4 C134.3,201.9 134.7,198.4 135.5,195.1 C136.3,191.7 137.6,188.4 139.2,185.2 C140.8,182.1 142.9,179.1 145.2,176.3 C147.6,173.5 150.3,170.9 153.3,168.6 C156.3,166.3 161.5,163.5 163.1,162.5"/><path d="M186.6,257.4 C184.5,257.1 177.9,256.4 173.8,255.3 C169.7,254.2 165.6,252.7 161.8,250.9 C158.1,249.2 154.4,247.0 151.2,244.6 C147.9,242.1 144.9,239.4 142.3,236.4 C139.8,233.5 137.5,230.2 135.7,226.9 C133.9,223.6 132.5,220.0 131.6,216.4 C130.6,212.8 130.1,209.1 130.1,205.4 C130.1,201.7 130.5,198.0 131.4,194.4 C132.3,190.8 133.6,187.2 135.3,183.8 C137.1,180.4 139.3,177.2 141.8,174.2 C144.3,171.2 147.3,168.4 150.5,166.0 C153.7,163.5 159.3,160.5 161.0,159.4"/><path d="M186.2,261.0 C184.0,260.6 177.0,259.9 172.6,258.7 C168.2,257.6 163.8,256.0 159.8,254.1 C155.8,252.2 151.9,249.8 148.4,247.2 C144.9,244.7 141.7,241.7 139.0,238.6 C136.2,235.4 133.8,231.9 131.9,228.4 C130.0,224.8 128.5,221.0 127.5,217.2 C126.5,213.3 125.9,209.3 125.9,205.4 C125.9,201.5 126.3,197.5 127.3,193.6 C128.2,189.8 129.6,186.0 131.5,182.4 C133.4,178.8 135.7,175.3 138.4,172.1 C141.1,168.9 144.3,165.9 147.7,163.3 C151.1,160.7 157.1,157.5 158.9,156.3"/><path d="M185.9,264.5 C183.5,264.1 176.0,263.3 171.3,262.1 C166.7,260.9 162.0,259.2 157.7,257.2 C153.5,255.1 149.3,252.7 145.6,249.9 C142.0,247.2 138.5,244.0 135.6,240.7 C132.7,237.3 130.1,233.7 128.1,229.9 C126.0,226.1 124.4,222.0 123.4,217.9 C122.3,213.9 121.7,209.6 121.7,205.4 C121.7,201.3 122.2,197.0 123.2,192.9 C124.1,188.8 125.7,184.8 127.7,180.9 C129.6,177.1 132.1,173.4 135.0,170.0 C137.9,166.6 141.2,163.4 144.9,160.7 C148.5,157.9 154.9,154.5 156.8,153.3"/><path d="M185.5,268.1 C182.9,267.7 175.1,266.8 170.1,265.5 C165.1,264.2 160.2,262.4 155.7,260.3 C151.2,258.1 146.8,255.5 142.9,252.6 C139.0,249.7 135.3,246.4 132.2,242.8 C129.1,239.3 126.4,235.4 124.3,231.3 C122.1,227.3 120.4,223.0 119.3,218.7 C118.1,214.4 117.5,209.9 117.5,205.5 C117.5,201.0 118.0,196.5 119.0,192.2 C120.1,187.9 121.7,183.5 123.8,179.5 C125.9,175.5 128.6,171.5 131.6,167.9 C134.6,164.3 138.2,161.0 142.1,158.0 C145.9,155.0 152.6,151.5 154.7,150.2"/><path d="M185.1,271.6 C182.4,271.2 174.1,270.3 168.9,268.9 C163.6,267.6 158.4,265.7 153.6,263.4 C148.9,261.1 144.2,258.4 140.1,255.3 C136.0,252.2 132.2,248.7 128.9,244.9 C125.6,241.2 122.7,237.1 120.4,232.8 C118.1,228.6 116.4,224.0 115.2,219.5 C114.0,214.9 113.3,210.2 113.3,205.5 C113.3,200.8 113.8,196.0 114.9,191.5 C116.0,186.9 117.8,182.3 120.0,178.1 C122.2,173.8 125.0,169.6 128.2,165.8 C131.4,162.1 135.2,158.5 139.3,155.4 C143.3,152.2 150.4,148.4 152.6,147.1"/><path d="M184.8,275.2 C181.9,274.7 173.2,273.8 167.6,272.4 C162.1,270.9 156.6,268.9 151.6,266.5 C146.5,264.1 141.7,261.2 137.3,258.0 C133.0,254.7 129.0,251.0 125.5,247.1 C122.0,243.1 119.0,238.8 116.6,234.3 C114.2,229.8 112.3,225.1 111.1,220.3 C109.8,215.5 109.1,210.4 109.1,205.5 C109.1,200.6 109.6,195.6 110.8,190.8 C112.0,185.9 113.8,181.1 116.1,176.6 C118.5,172.1 121.4,167.7 124.8,163.7 C128.2,159.8 132.1,156.0 136.4,152.7 C140.7,149.4 148.2,145.4 150.5,144.0"/><path d="M184.4,278.8 C181.4,278.3 172.2,277.3 166.4,275.8 C160.6,274.3 154.9,272.2 149.6,269.6 C144.2,267.1 139.1,264.1 134.6,260.7 C130.0,257.3 125.8,253.4 122.1,249.2 C118.5,245.1 115.3,240.5 112.8,235.8 C110.3,231.1 108.3,226.1 107.0,221.0 C105.6,216.0 104.9,210.7 104.9,205.5 C104.9,200.4 105.5,195.1 106.7,190.0 C107.9,185.0 109.8,179.9 112.3,175.2 C114.7,170.5 117.8,165.8 121.4,161.7 C124.9,157.5 129.1,153.5 133.6,150.1 C138.1,146.6 146.0,142.4 148.4,140.9"/><path d="M184.0,282.3 C180.9,281.8 171.3,280.8 165.2,279.2 C159.1,277.6 153.1,275.4 147.5,272.8 C141.9,270.1 136.6,266.9 131.8,263.3 C127.0,259.8 122.6,255.7 118.8,251.3 C115.0,247.0 111.6,242.2 109.0,237.3 C106.3,232.4 104.2,227.1 102.9,221.8 C101.5,216.5 100.7,211.0 100.7,205.6 C100.7,200.1 101.3,194.6 102.6,189.3 C103.9,184.0 105.9,178.7 108.4,173.7 C111.0,168.8 114.3,164.0 118.0,159.6 C121.7,155.2 126.1,151.0 130.8,147.4 C135.5,143.8 143.8,139.4 146.3,137.8"/></g><g clip-path="url(#cbclip)" fill="none" stroke="#2a261c" stroke-width="1.25"><path d="M190.1,223.6 C189.3,223.5 187.0,223.3 185.5,222.9 C184.1,222.5 182.6,222.0 181.3,221.3 C179.9,220.7 178.6,219.9 177.5,219.1 C176.3,218.2 175.3,217.2 174.4,216.2 C173.4,215.1 172.6,214.0 172.0,212.8 C171.4,211.6 170.9,210.3 170.5,209.0 C170.2,207.8 170.0,206.4 170.0,205.1 C170.0,203.8 170.1,202.5 170.5,201.2 C170.8,199.9 171.2,198.7 171.9,197.5 C172.5,196.3 173.3,195.1 174.2,194.1 C175.1,193.0 176.1,192.0 177.3,191.1 C178.4,190.2 180.4,189.2 181.0,188.8"/><path d="M189.7,227.2 C188.8,227.0 186.1,226.7 184.3,226.3 C182.6,225.8 180.8,225.2 179.2,224.4 C177.6,223.7 176.1,222.8 174.7,221.7 C173.4,220.7 172.1,219.5 171.0,218.3 C169.9,217.1 168.9,215.7 168.2,214.3 C167.4,212.9 166.8,211.3 166.4,209.8 C166.0,208.3 165.8,206.7 165.8,205.2 C165.8,203.6 166.0,202.0 166.3,200.5 C166.7,199.0 167.3,197.5 168.0,196.0 C168.8,194.6 169.7,193.2 170.8,192.0 C171.8,190.7 173.1,189.5 174.4,188.5 C175.8,187.4 178.2,186.2 178.9,185.7"/><path d="M189.4,230.7 C188.3,230.6 185.1,230.2 183.1,229.7 C181.0,229.2 179.0,228.4 177.2,227.6 C175.3,226.7 173.6,225.6 172.0,224.4 C170.4,223.2 168.9,221.9 167.6,220.4 C166.3,219.0 165.2,217.4 164.4,215.7 C163.5,214.1 162.8,212.4 162.3,210.6 C161.9,208.8 161.6,207.0 161.6,205.2 C161.6,203.4 161.8,201.5 162.2,199.8 C162.7,198.0 163.3,196.2 164.2,194.6 C165.0,192.9 166.1,191.3 167.4,189.9 C168.6,188.4 170.1,187.0 171.6,185.8 C173.2,184.6 175.9,183.2 176.8,182.6"/><path d="M189.0,234.3 C187.8,234.1 184.1,233.7 181.8,233.1 C179.5,232.5 177.2,231.7 175.1,230.7 C173.0,229.7 171.0,228.5 169.2,227.1 C167.4,225.8 165.7,224.2 164.2,222.6 C162.8,220.9 161.5,219.1 160.5,217.2 C159.5,215.4 158.7,213.4 158.2,211.4 C157.7,209.4 157.4,207.3 157.4,205.2 C157.4,203.2 157.6,201.1 158.1,199.1 C158.6,197.0 159.4,195.0 160.3,193.2 C161.3,191.3 162.5,189.4 163.9,187.8 C165.4,186.1 167.0,184.5 168.8,183.2 C170.6,181.8 173.7,180.1 174.7,179.5"/><path d="M188.6,237.9 C187.3,237.6 183.2,237.2 180.6,236.5 C178.0,235.8 175.5,234.9 173.1,233.8 C170.7,232.7 168.5,231.3 166.4,229.8 C164.4,228.3 162.5,226.5 160.9,224.7 C159.3,222.8 157.8,220.8 156.7,218.7 C155.6,216.6 154.7,214.4 154.1,212.1 C153.5,209.9 153.2,207.5 153.2,205.2 C153.2,202.9 153.5,200.6 154.0,198.3 C154.5,196.1 155.4,193.8 156.5,191.7 C157.6,189.6 159.0,187.6 160.5,185.7 C162.1,183.8 164.0,182.1 166.0,180.5 C168.0,179.0 171.5,177.1 172.6,176.4"/><path d="M188.3,241.4 C186.8,241.2 182.2,240.7 179.4,239.9 C176.5,239.2 173.7,238.2 171.0,236.9 C168.4,235.7 165.9,234.2 163.6,232.5 C161.4,230.8 159.3,228.9 157.5,226.8 C155.7,224.8 154.1,222.5 152.9,220.2 C151.6,217.9 150.7,215.4 150.0,212.9 C149.4,210.4 149.0,207.8 149.0,205.3 C149.0,202.7 149.3,200.1 149.9,197.6 C150.5,195.1 151.4,192.6 152.6,190.3 C153.9,187.9 155.4,185.7 157.1,183.6 C158.9,181.5 161.0,179.6 163.2,177.9 C165.4,176.2 169.3,174.1 170.5,173.3"/><path d="M187.9,245.0 C186.3,244.7 181.3,244.2 178.1,243.3 C175.0,242.5 171.9,241.4 169.0,240.0 C166.1,238.7 163.4,237.0 160.9,235.2 C158.4,233.3 156.1,231.2 154.1,229.0 C152.2,226.7 150.4,224.2 149.1,221.7 C147.7,219.1 146.6,216.4 145.9,213.7 C145.2,211.0 144.8,208.1 144.8,205.3 C144.8,202.5 145.1,199.6 145.8,196.9 C146.4,194.1 147.5,191.4 148.8,188.8 C150.1,186.3 151.8,183.8 153.7,181.5 C155.7,179.2 157.9,177.1 160.4,175.2 C162.8,173.3 167.1,171.1 168.4,170.3"/><path d="M187.5,248.5 C185.8,248.2 180.3,247.7 176.9,246.8 C173.5,245.9 170.1,244.6 167.0,243.2 C163.8,241.7 160.8,239.9 158.1,237.8 C155.4,235.8 152.9,233.5 150.8,231.1 C148.6,228.6 146.8,225.9 145.3,223.2 C143.8,220.4 142.6,217.4 141.8,214.5 C141.0,211.5 140.6,208.4 140.6,205.3 C140.6,202.3 140.9,199.2 141.7,196.2 C142.4,193.2 143.5,190.2 145.0,187.4 C146.4,184.6 148.2,181.9 150.3,179.4 C152.4,177.0 154.9,174.6 157.6,172.6 C160.2,170.5 164.8,168.1 166.3,167.2"/><path d="M187.2,252.1 C185.2,251.8 179.4,251.1 175.7,250.2 C172.0,249.2 168.3,247.9 164.9,246.3 C161.5,244.7 158.3,242.7 155.3,240.5 C152.4,238.4 149.7,235.9 147.4,233.2 C145.1,230.6 143.1,227.7 141.4,224.7 C139.8,221.7 138.6,218.4 137.7,215.2 C136.9,212.0 136.4,208.6 136.4,205.3 C136.4,202.0 136.8,198.7 137.5,195.4 C138.3,192.2 139.5,189.0 141.1,186.0 C142.7,182.9 144.7,180.0 146.9,177.3 C149.2,174.7 151.9,172.1 154.7,169.9 C157.6,167.7 162.6,165.0 164.2,164.1"/><path d="M186.8,255.6 C184.7,255.3 178.4,254.6 174.4,253.6 C170.4,252.5 166.5,251.1 162.9,249.4 C159.2,247.7 155.7,245.6 152.6,243.2 C149.4,240.9 146.5,238.2 144.0,235.4 C141.5,232.5 139.4,229.4 137.6,226.1 C135.9,222.9 134.5,219.5 133.6,216.0 C132.7,212.5 132.2,208.9 132.2,205.4 C132.2,201.8 132.6,198.2 133.4,194.7 C134.3,191.2 135.6,187.8 137.3,184.5 C138.9,181.3 141.1,178.1 143.5,175.2 C146.0,172.4 148.8,169.7 151.9,167.3 C155.0,164.9 160.4,162.0 162.1,161.0"/><path d="M186.4,259.2 C184.2,258.8 177.5,258.1 173.2,257.0 C168.9,255.9 164.7,254.4 160.8,252.5 C156.9,250.7 153.2,248.4 149.8,245.9 C146.4,243.4 143.3,240.5 140.7,237.5 C138.0,234.4 135.7,231.1 133.8,227.6 C131.9,224.2 130.5,220.5 129.5,216.8 C128.6,213.1 128.0,209.2 128.0,205.4 C128.0,201.6 128.4,197.7 129.3,194.0 C130.2,190.3 131.6,186.6 133.4,183.1 C135.2,179.6 137.5,176.2 140.1,173.2 C142.7,170.1 145.8,167.2 149.1,164.6 C152.4,162.1 158.2,159.0 160.0,157.9"/><path d="M186.1,262.7 C183.7,262.4 176.5,261.6 172.0,260.4 C167.4,259.2 162.9,257.6 158.8,255.6 C154.6,253.6 150.6,251.3 147.0,248.6 C143.5,245.9 140.1,242.9 137.3,239.6 C134.5,236.4 132.0,232.8 130.0,229.1 C128.0,225.4 126.4,221.5 125.4,217.5 C124.4,213.6 123.8,209.5 123.8,205.4 C123.8,201.4 124.2,197.2 125.2,193.3 C126.2,189.3 127.7,185.4 129.6,181.7 C131.5,178.0 133.9,174.3 136.7,171.1 C139.5,167.8 142.8,164.7 146.3,162.0 C149.8,159.3 156.0,156.0 157.9,154.8"/><path d="M185.7,266.3 C183.2,265.9 175.6,265.1 170.7,263.8 C165.9,262.6 161.1,260.8 156.7,258.7 C152.3,256.6 148.1,254.1 144.3,251.3 C140.5,248.4 136.9,245.2 133.9,241.7 C130.9,238.3 128.3,234.5 126.2,230.6 C124.1,226.7 122.4,222.5 121.3,218.3 C120.2,214.1 119.6,209.7 119.6,205.4 C119.6,201.2 120.1,196.8 121.1,192.6 C122.1,188.4 123.7,184.1 125.7,180.2 C127.8,176.3 130.3,172.5 133.3,169.0 C136.3,165.5 139.7,162.2 143.5,159.3 C147.2,156.4 153.7,153.0 155.8,151.7"/><path d="M185.3,269.9 C182.7,269.4 174.6,268.6 169.5,267.2 C164.4,265.9 159.3,264.1 154.7,261.9 C150.0,259.6 145.5,256.9 141.5,254.0 C137.5,251.0 133.7,247.5 130.6,243.9 C127.4,240.2 124.6,236.2 122.3,232.1 C120.1,228.0 118.4,223.5 117.2,219.1 C116.1,214.7 115.4,210.0 115.4,205.5 C115.4,200.9 115.9,196.3 117.0,191.8 C118.1,187.4 119.7,182.9 121.9,178.8 C124.0,174.6 126.8,170.6 129.9,166.9 C133.0,163.2 136.7,159.7 140.7,156.7 C144.6,153.6 151.5,150.0 153.7,148.6"/><path d="M185.0,273.4 C182.2,273.0 173.7,272.1 168.3,270.6 C162.9,269.2 157.5,267.3 152.6,265.0 C147.7,262.6 143.0,259.8 138.7,256.6 C134.5,253.5 130.6,249.9 127.2,246.0 C123.8,242.2 120.9,237.9 118.5,233.6 C116.2,229.2 114.3,224.5 113.1,219.9 C111.9,215.2 111.2,210.3 111.2,205.5 C111.2,200.7 111.7,195.8 112.9,191.1 C114.0,186.4 115.8,181.7 118.0,177.3 C120.3,173.0 123.2,168.7 126.5,164.8 C129.8,160.9 133.7,157.2 137.8,154.0 C142.0,150.8 149.3,146.9 151.6,145.5"/><path d="M184.6,277.0 C181.7,276.5 172.7,275.5 167.0,274.1 C161.4,272.6 155.8,270.5 150.6,268.1 C145.4,265.6 140.4,262.6 136.0,259.3 C131.5,256.0 127.4,252.2 123.8,248.1 C120.3,244.1 117.2,239.6 114.7,235.1 C112.2,230.5 110.3,225.6 109.0,220.6 C107.7,215.7 107.0,210.6 107.0,205.5 C107.0,200.5 107.6,195.3 108.8,190.4 C110.0,185.5 111.8,180.5 114.2,175.9 C116.6,171.3 119.6,166.8 123.1,162.7 C126.6,158.6 130.6,154.8 135.0,151.4 C139.4,148.0 147.1,143.9 149.5,142.4"/><path d="M184.2,280.5 C181.2,280.0 171.7,279.0 165.8,277.5 C159.8,275.9 154.0,273.8 148.5,271.2 C143.1,268.6 137.9,265.5 133.2,262.0 C128.5,258.5 124.2,254.5 120.5,250.3 C116.7,246.0 113.5,241.4 110.9,236.5 C108.3,231.7 106.3,226.6 104.9,221.4 C103.6,216.2 102.8,210.8 102.8,205.6 C102.8,200.3 103.4,194.8 104.6,189.7 C105.9,184.5 107.8,179.3 110.4,174.5 C112.9,169.6 116.0,164.9 119.7,160.6 C123.3,156.3 127.6,152.3 132.2,148.7 C136.8,145.2 144.9,140.9 147.4,139.3"/><path d="M183.9,284.1 C180.6,283.6 170.8,282.5 164.6,280.9 C158.3,279.3 152.2,277.0 146.5,274.3 C140.8,271.6 135.3,268.3 130.4,264.7 C125.5,261.0 121.0,256.9 117.1,252.4 C113.2,248.0 109.8,243.1 107.1,238.0 C104.4,233.0 102.2,227.6 100.8,222.2 C99.4,216.8 98.6,211.1 98.6,205.6 C98.6,200.0 99.2,194.4 100.5,188.9 C101.8,183.5 103.9,178.1 106.5,173.0 C109.1,168.0 112.5,163.0 116.3,158.5 C120.1,154.0 124.6,149.8 129.4,146.1 C134.2,142.4 142.7,137.9 145.3,136.2"/></g><g clip-path="url(#cbclip)" fill="none" stroke="#c6c1ae" stroke-width="1.6"><path d="M188.2,180.8 C189.1,181.1 191.7,182.0 193.2,182.9 C194.8,183.8 196.3,184.8 197.5,185.9 C198.8,187.1 199.9,188.4 200.9,189.8 C201.8,191.1 202.6,192.6 203.1,194.1 C203.6,195.6 204.0,197.2 204.1,198.8 C204.2,200.4 204.1,202.0 203.7,203.6 C203.4,205.1 202.9,206.7 202.1,208.1 C201.4,209.6 200.4,211.0 199.3,212.2 C198.2,213.5 196.9,214.7 195.5,215.7 C194.1,216.7 192.5,217.6 190.8,218.3 C189.2,219.0 187.4,219.6 185.6,219.9 C183.8,220.3 180.9,220.4 180.0,220.5"/><path d="M189.7,177.4 C190.7,177.8 193.7,178.9 195.6,179.9 C197.4,180.9 199.1,182.1 200.6,183.5 C202.1,184.8 203.4,186.4 204.5,188.0 C205.6,189.6 206.5,191.3 207.1,193.1 C207.7,194.9 208.1,196.8 208.3,198.6 C208.4,200.4 208.2,202.4 207.9,204.2 C207.5,206.0 206.8,207.8 206.0,209.5 C205.1,211.2 204.0,212.9 202.7,214.4 C201.4,215.8 199.9,217.2 198.2,218.4 C196.5,219.6 194.6,220.7 192.7,221.5 C190.8,222.3 188.6,223.0 186.5,223.4 C184.4,223.8 181.1,223.9 180.0,224.1"/><path d="M191.1,174.0 C192.2,174.5 195.8,175.8 197.9,176.9 C199.9,178.1 201.9,179.5 203.6,181.0 C205.4,182.6 206.9,184.3 208.1,186.2 C209.4,188.0 210.4,190.0 211.1,192.1 C211.9,194.1 212.3,196.3 212.4,198.4 C212.6,200.5 212.4,202.7 212.0,204.8 C211.6,206.9 210.8,209.0 209.8,210.9 C208.9,212.9 207.6,214.8 206.1,216.5 C204.6,218.2 202.8,219.8 200.9,221.2 C199.0,222.5 196.8,223.7 194.6,224.7 C192.4,225.6 189.9,226.4 187.5,226.9 C185.1,227.4 181.2,227.5 180.0,227.6"/><path d="M192.6,170.7 C193.8,171.2 197.8,172.6 200.2,173.9 C202.5,175.3 204.8,176.8 206.7,178.6 C208.6,180.3 210.4,182.3 211.8,184.4 C213.2,186.5 214.3,188.8 215.2,191.1 C216.0,193.4 216.5,195.8 216.6,198.2 C216.8,200.6 216.6,203.1 216.1,205.4 C215.7,207.8 214.8,210.2 213.7,212.4 C212.6,214.6 211.1,216.7 209.4,218.6 C207.8,220.6 205.8,222.4 203.6,223.9 C201.4,225.4 199.0,226.8 196.5,227.9 C193.9,229.0 191.2,229.8 188.5,230.4 C185.7,230.9 181.4,231.1 180.0,231.2"/><path d="M194.0,167.3 C195.4,167.9 199.8,169.5 202.5,171.0 C205.1,172.4 207.6,174.2 209.7,176.1 C211.9,178.1 213.8,180.3 215.4,182.6 C217.0,184.9 218.3,187.5 219.2,190.0 C220.1,192.6 220.6,195.3 220.8,198.0 C221.0,200.6 220.8,203.4 220.3,206.0 C219.7,208.7 218.8,211.3 217.6,213.8 C216.3,216.2 214.7,218.6 212.8,220.8 C210.9,222.9 208.7,224.9 206.3,226.6 C203.9,228.3 201.2,229.9 198.4,231.1 C195.5,232.3 192.5,233.2 189.4,233.8 C186.4,234.4 181.6,234.6 180.0,234.8"/><path d="M195.4,164.0 C197.0,164.6 201.9,166.4 204.8,168.0 C207.7,169.6 210.4,171.5 212.8,173.7 C215.2,175.8 217.3,178.3 219.1,180.8 C220.8,183.4 222.2,186.2 223.2,189.0 C224.2,191.8 224.8,194.8 225.0,197.8 C225.2,200.7 225.0,203.8 224.4,206.7 C223.8,209.6 222.8,212.5 221.4,215.2 C220.0,217.9 218.2,220.5 216.2,222.9 C214.1,225.3 211.6,227.5 209.0,229.4 C206.3,231.3 203.3,232.9 200.2,234.3 C197.1,235.6 193.8,236.6 190.4,237.3 C187.0,238.0 181.7,238.2 180.0,238.3"/><path d="M196.9,160.6 C198.6,161.3 203.9,163.2 207.1,165.0 C210.3,166.8 213.3,168.9 215.9,171.2 C218.5,173.6 220.8,176.3 222.7,179.0 C224.6,181.8 226.1,184.9 227.2,188.0 C228.3,191.1 229.0,194.3 229.2,197.6 C229.4,200.8 229.2,204.1 228.6,207.3 C227.9,210.4 226.8,213.6 225.3,216.6 C223.8,219.6 221.8,222.4 219.5,225.0 C217.3,227.6 214.6,230.0 211.7,232.1 C208.8,234.2 205.5,236.0 202.1,237.4 C198.7,238.9 195.1,240.0 191.4,240.8 C187.7,241.5 181.9,241.7 180.0,241.9"/><path d="M198.3,157.3 C200.1,158.1 206.0,160.1 209.4,162.0 C212.8,163.9 216.1,166.3 218.9,168.8 C221.7,171.3 224.3,174.2 226.3,177.3 C228.4,180.3 230.1,183.6 231.3,187.0 C232.4,190.3 233.2,193.9 233.4,197.4 C233.6,200.8 233.4,204.5 232.7,207.9 C232.0,211.3 230.8,214.8 229.1,218.0 C227.5,221.2 225.4,224.4 222.9,227.2 C220.5,230.0 217.5,232.6 214.4,234.8 C211.2,237.1 207.7,239.1 204.0,240.6 C200.3,242.2 196.3,243.4 192.3,244.2 C188.3,245.1 182.1,245.3 180.0,245.5"/><path d="M199.7,153.9 C201.7,154.8 208.0,157.0 211.7,159.0 C215.4,161.1 218.9,163.6 222.0,166.3 C225.0,169.1 227.8,172.2 230.0,175.5 C232.2,178.7 234.0,182.3 235.3,185.9 C236.5,189.5 237.3,193.4 237.6,197.1 C237.9,200.9 237.6,204.8 236.8,208.5 C236.1,212.2 234.7,216.0 233.0,219.4 C231.2,222.9 228.9,226.3 226.3,229.3 C223.6,232.3 220.5,235.1 217.1,237.6 C213.7,240.0 209.9,242.1 205.9,243.8 C201.9,245.5 197.6,246.9 193.3,247.7 C189.0,248.6 182.2,248.8 180.0,249.0"/><path d="M201.2,150.6 C203.3,151.5 210.0,153.8 214.0,156.0 C218.0,158.3 221.8,161.0 225.0,163.9 C228.3,166.8 231.2,170.2 233.6,173.7 C236.0,177.2 237.9,181.0 239.3,184.9 C240.7,188.8 241.5,192.9 241.8,196.9 C242.1,201.0 241.8,205.2 241.0,209.1 C240.1,213.1 238.7,217.1 236.8,220.8 C235.0,224.6 232.5,228.2 229.7,231.4 C226.8,234.7 223.4,237.7 219.8,240.3 C216.1,242.9 212.0,245.2 207.8,247.0 C203.5,248.8 198.9,250.3 194.3,251.2 C189.6,252.1 182.4,252.4 180.0,252.6"/><path d="M202.6,147.2 C204.9,148.2 212.1,150.7 216.3,153.1 C220.6,155.4 224.6,158.3 228.1,161.4 C231.6,164.6 234.7,168.2 237.2,171.9 C239.8,175.6 241.9,179.7 243.3,183.9 C244.8,188.0 245.7,192.4 246.0,196.7 C246.3,201.0 246.0,205.5 245.1,209.8 C244.2,214.0 242.7,218.3 240.7,222.3 C238.7,226.2 236.1,230.1 233.0,233.6 C230.0,237.0 226.4,240.3 222.5,243.0 C218.6,245.8 214.2,248.3 209.7,250.2 C205.1,252.1 200.2,253.7 195.2,254.7 C190.3,255.7 182.5,255.9 180.0,256.2"/><path d="M204.0,143.8 C206.5,144.9 214.1,147.6 218.6,150.1 C223.1,152.6 227.4,155.7 231.1,159.0 C234.8,162.3 238.2,166.1 240.9,170.1 C243.6,174.1 245.8,178.5 247.3,182.9 C248.9,187.3 249.9,191.9 250.2,196.5 C250.5,201.1 250.2,205.9 249.2,210.4 C248.3,214.9 246.7,219.4 244.6,223.7 C242.4,227.9 239.6,232.0 236.4,235.7 C233.2,239.4 229.3,242.8 225.2,245.8 C221.0,248.7 216.4,251.3 211.6,253.4 C206.7,255.5 201.5,257.1 196.2,258.1 C191.0,259.2 182.7,259.5 180.0,259.8"/><path d="M205.5,140.5 C208.1,141.6 216.2,144.4 220.9,147.1 C225.7,149.8 230.3,153.0 234.2,156.5 C238.1,160.1 241.7,164.1 244.5,168.3 C247.4,172.6 249.7,177.2 251.4,181.8 C253.0,186.5 254.0,191.5 254.4,196.3 C254.7,201.2 254.4,206.2 253.4,211.0 C252.4,215.8 250.7,220.6 248.4,225.1 C246.1,229.6 243.2,233.9 239.8,237.8 C236.3,241.7 232.3,245.4 227.9,248.5 C223.5,251.6 218.6,254.4 213.4,256.6 C208.3,258.8 202.8,260.5 197.2,261.6 C191.6,262.7 182.9,263.0 180.0,263.3"/><path d="M206.9,137.1 C209.6,138.3 218.2,141.3 223.2,144.1 C228.3,146.9 233.1,150.4 237.2,154.1 C241.4,157.8 245.1,162.1 248.2,166.6 C251.2,171.0 253.7,175.9 255.4,180.8 C257.1,185.7 258.2,191.0 258.6,196.1 C258.9,201.2 258.6,206.6 257.5,211.6 C256.5,216.7 254.7,221.8 252.3,226.5 C249.9,231.2 246.7,235.8 243.1,239.9 C239.5,244.1 235.2,247.9 230.6,251.2 C226.0,254.5 220.7,257.5 215.3,259.8 C209.9,262.1 204.0,263.9 198.1,265.1 C192.3,266.3 183.0,266.6 180.0,266.9"/><path d="M208.4,133.8 C211.2,135.0 220.2,138.2 225.6,141.1 C230.9,144.1 235.9,147.7 240.3,151.6 C244.7,155.6 248.6,160.1 251.8,164.8 C255.0,169.5 257.6,174.6 259.4,179.8 C261.2,185.0 262.4,190.5 262.8,195.9 C263.1,201.3 262.7,206.9 261.6,212.2 C260.5,217.6 258.6,222.9 256.1,227.9 C253.6,232.9 250.3,237.7 246.5,242.1 C242.7,246.4 238.2,250.5 233.3,254.0 C228.4,257.5 222.9,260.5 217.2,263.0 C211.5,265.4 205.3,267.3 199.1,268.6 C192.9,269.8 183.2,270.1 180.0,270.5"/><path d="M209.8,130.4 C212.8,131.7 222.3,135.0 227.9,138.1 C233.5,141.3 238.8,145.1 243.4,149.2 C247.9,153.3 252.1,158.1 255.4,163.0 C258.8,167.9 261.5,173.3 263.4,178.8 C265.4,184.2 266.6,190.0 267.0,195.7 C267.3,201.4 266.9,207.3 265.8,212.9 C264.6,218.5 262.6,224.1 260.0,229.3 C257.3,234.5 253.9,239.6 249.9,244.2 C245.9,248.8 241.1,253.1 236.0,256.7 C230.9,260.4 225.1,263.6 219.1,266.2 C213.1,268.7 206.6,270.7 200.1,272.0 C193.6,273.4 183.3,273.7 180.0,274.0"/><path d="M211.2,127.1 C214.4,128.4 224.3,131.9 230.2,135.2 C236.0,138.4 241.6,142.4 246.4,146.7 C251.2,151.1 255.6,156.0 259.1,161.2 C262.6,166.4 265.5,172.0 267.5,177.7 C269.5,183.5 270.7,189.5 271.1,195.5 C271.6,201.4 271.1,207.6 269.9,213.5 C268.7,219.4 266.6,225.3 263.8,230.7 C261.1,236.2 257.4,241.6 253.2,246.3 C249.0,251.1 244.1,255.6 238.7,259.4 C233.3,263.3 227.2,266.7 221.0,269.4 C214.7,272.0 207.9,274.1 201.1,275.5 C194.2,276.9 183.5,277.3 180.0,277.6"/></g><g clip-path="url(#cbclip)" fill="none" stroke="#2a261c" stroke-width="1.25"><path d="M187.5,182.4 C188.3,182.8 190.7,183.6 192.1,184.4 C193.5,185.2 194.8,186.1 196.0,187.2 C197.2,188.2 198.2,189.4 199.1,190.7 C199.9,191.9 200.6,193.3 201.1,194.6 C201.6,196.0 201.9,197.5 202.0,198.9 C202.1,200.3 202.0,201.8 201.7,203.2 C201.4,204.7 200.9,206.1 200.2,207.4 C199.5,208.7 198.7,210.0 197.6,211.2 C196.6,212.3 195.4,213.4 194.1,214.3 C192.8,215.2 191.4,216.1 189.9,216.7 C188.4,217.4 186.7,217.9 185.1,218.2 C183.4,218.5 180.8,218.6 180.0,218.7"/><path d="M189.0,179.1 C189.9,179.5 192.7,180.5 194.4,181.4 C196.1,182.3 197.7,183.5 199.1,184.7 C200.4,186.0 201.7,187.4 202.7,188.9 C203.7,190.3 204.5,192.0 205.1,193.6 C205.7,195.3 206.0,197.0 206.2,198.7 C206.3,200.4 206.2,202.2 205.8,203.9 C205.5,205.6 204.9,207.2 204.1,208.8 C203.3,210.4 202.2,211.9 201.0,213.3 C199.8,214.7 198.4,216.0 196.8,217.1 C195.3,218.2 193.6,219.1 191.8,219.9 C190.0,220.7 188.0,221.3 186.0,221.7 C184.1,222.1 181.0,222.2 180.0,222.3"/><path d="M190.4,175.7 C191.4,176.2 194.8,177.3 196.7,178.4 C198.7,179.5 200.5,180.8 202.1,182.3 C203.7,183.7 205.2,185.4 206.3,187.1 C207.5,188.8 208.5,190.7 209.1,192.6 C209.8,194.5 210.2,196.5 210.3,198.5 C210.5,200.5 210.3,202.5 209.9,204.5 C209.5,206.4 208.8,208.4 207.9,210.2 C207.0,212.1 205.8,213.8 204.4,215.4 C203.0,217.0 201.3,218.5 199.5,219.8 C197.8,221.1 195.7,222.2 193.6,223.1 C191.6,224.0 189.3,224.7 187.0,225.1 C184.7,225.6 181.2,225.7 180.0,225.8"/><path d="M191.8,172.4 C193.0,172.9 196.8,174.2 199.0,175.4 C201.2,176.7 203.3,178.2 205.2,179.8 C207.0,181.5 208.6,183.3 210.0,185.3 C211.3,187.3 212.4,189.4 213.1,191.6 C213.9,193.7 214.4,196.0 214.5,198.3 C214.7,200.5 214.5,202.9 214.1,205.1 C213.6,207.3 212.8,209.6 211.8,211.6 C210.7,213.7 209.3,215.7 207.8,217.6 C206.2,219.4 204.3,221.1 202.2,222.5 C200.2,224.0 197.9,225.3 195.5,226.3 C193.2,227.3 190.6,228.1 188.0,228.6 C185.4,229.1 181.3,229.3 180.0,229.4"/><path d="M193.3,169.0 C194.6,169.6 198.8,171.1 201.3,172.4 C203.8,173.8 206.2,175.5 208.2,177.4 C210.3,179.2 212.1,181.3 213.6,183.5 C215.1,185.7 216.3,188.1 217.2,190.5 C218.0,193.0 218.6,195.6 218.7,198.1 C218.9,200.6 218.7,203.2 218.2,205.7 C217.7,208.2 216.8,210.7 215.6,213.1 C214.4,215.4 212.9,217.7 211.1,219.7 C209.3,221.7 207.2,223.6 204.9,225.3 C202.7,226.9 200.1,228.3 197.4,229.5 C194.7,230.6 191.9,231.5 188.9,232.1 C186.0,232.7 181.5,232.8 180.0,233.0"/><path d="M194.7,165.7 C196.2,166.3 200.9,167.9 203.6,169.5 C206.4,171.0 209.0,172.9 211.3,174.9 C213.5,177.0 215.6,179.3 217.2,181.7 C218.9,184.2 220.2,186.8 221.2,189.5 C222.1,192.2 222.7,195.1 222.9,197.9 C223.1,200.7 222.9,203.6 222.3,206.3 C221.8,209.1 220.8,211.9 219.5,214.5 C218.2,217.1 216.5,219.6 214.5,221.8 C212.5,224.1 210.2,226.2 207.6,228.0 C205.1,229.8 202.3,231.4 199.3,232.7 C196.3,233.9 193.1,234.9 189.9,235.6 C186.7,236.2 181.7,236.4 180.0,236.6"/><path d="M196.1,162.3 C197.8,163.0 202.9,164.8 205.9,166.5 C209.0,168.2 211.8,170.2 214.3,172.5 C216.8,174.7 219.1,177.3 220.9,179.9 C222.7,182.6 224.2,185.5 225.2,188.5 C226.3,191.4 226.9,194.6 227.1,197.7 C227.3,200.7 227.1,203.9 226.5,207.0 C225.9,210.0 224.8,213.1 223.3,215.9 C221.9,218.7 220.0,221.5 217.9,224.0 C215.7,226.4 213.1,228.8 210.3,230.7 C207.6,232.7 204.4,234.5 201.2,235.9 C197.9,237.2 194.4,238.3 190.9,239.0 C187.4,239.7 181.8,239.9 180.0,240.1"/><path d="M197.6,158.9 C199.4,159.7 204.9,161.7 208.2,163.5 C211.5,165.3 214.7,167.6 217.4,170.0 C220.1,172.5 222.5,175.2 224.5,178.2 C226.5,181.1 228.1,184.3 229.2,187.5 C230.4,190.7 231.1,194.1 231.3,197.5 C231.5,200.8 231.3,204.3 230.6,207.6 C229.9,210.9 228.8,214.2 227.2,217.3 C225.6,220.4 223.6,223.4 221.2,226.1 C218.9,228.8 216.1,231.3 213.0,233.5 C210.0,235.6 206.6,237.5 203.1,239.0 C199.5,240.6 195.7,241.7 191.9,242.5 C188.0,243.3 182.0,243.5 180.0,243.7"/><path d="M199.0,155.6 C200.9,156.4 207.0,158.5 210.6,160.5 C214.1,162.5 217.5,164.9 220.4,167.6 C223.4,170.2 226.0,173.2 228.2,176.4 C230.3,179.5 232.0,183.0 233.3,186.4 C234.5,189.9 235.3,193.6 235.5,197.3 C235.8,200.9 235.5,204.6 234.8,208.2 C234.0,211.8 232.7,215.4 231.1,218.7 C229.4,222.1 227.2,225.3 224.6,228.2 C222.0,231.1 219.0,233.9 215.7,236.2 C212.5,238.5 208.8,240.6 205.0,242.2 C201.1,243.9 197.0,245.1 192.8,246.0 C188.7,246.8 182.1,247.0 180.0,247.3"/><path d="M200.5,152.2 C202.5,153.1 209.0,155.4 212.9,157.5 C216.7,159.7 220.3,162.3 223.5,165.1 C226.7,168.0 229.5,171.2 231.8,174.6 C234.1,178.0 236.0,181.7 237.3,185.4 C238.6,189.2 239.4,193.1 239.7,197.0 C240.0,200.9 239.7,205.0 238.9,208.8 C238.1,212.7 236.7,216.5 234.9,220.1 C233.1,223.7 230.7,227.2 228.0,230.4 C225.2,233.5 222.0,236.4 218.4,238.9 C214.9,241.4 210.9,243.7 206.8,245.4 C202.7,247.2 198.3,248.6 193.8,249.5 C189.3,250.4 182.3,250.6 180.0,250.8"/><path d="M201.9,148.9 C204.1,149.8 211.1,152.3 215.2,154.5 C219.3,156.8 223.2,159.6 226.6,162.7 C229.9,165.7 233.0,169.2 235.4,172.8 C237.9,176.4 239.9,180.4 241.3,184.4 C242.7,188.4 243.6,192.7 243.9,196.8 C244.2,201.0 243.9,205.3 243.0,209.4 C242.2,213.6 240.7,217.7 238.8,221.5 C236.8,225.4 234.3,229.1 231.3,232.5 C228.4,235.8 224.9,239.0 221.1,241.7 C217.4,244.4 213.1,246.7 208.7,248.6 C204.3,250.5 199.5,252.0 194.8,252.9 C190.0,253.9 182.5,254.2 180.0,254.4"/><path d="M203.3,145.5 C205.7,146.5 213.1,149.1 217.5,151.6 C221.9,154.0 226.0,157.0 229.6,160.2 C233.2,163.5 236.4,167.2 239.1,171.0 C241.7,174.9 243.8,179.1 245.3,183.4 C246.8,187.6 247.8,192.2 248.1,196.6 C248.4,201.1 248.1,205.7 247.2,210.1 C246.3,214.5 244.7,218.9 242.6,223.0 C240.5,227.1 237.8,231.0 234.7,234.6 C231.6,238.2 227.9,241.5 223.8,244.4 C219.8,247.3 215.3,249.8 210.6,251.8 C205.9,253.8 200.8,255.4 195.7,256.4 C190.6,257.4 182.6,257.7 180.0,258.0"/><path d="M204.8,142.2 C207.3,143.2 215.1,146.0 219.8,148.6 C224.4,151.2 228.8,154.3 232.7,157.8 C236.5,161.2 239.9,165.1 242.7,169.2 C245.5,173.3 247.8,177.8 249.4,182.4 C251.0,186.9 252.0,191.7 252.3,196.4 C252.6,201.1 252.3,206.0 251.3,210.7 C250.3,215.3 248.7,220.0 246.5,224.4 C244.3,228.7 241.4,233.0 238.1,236.7 C234.8,240.5 230.8,244.1 226.5,247.1 C222.3,250.2 217.5,252.9 212.5,255.0 C207.5,257.1 202.1,258.8 196.7,259.9 C191.3,261.0 182.8,261.3 180.0,261.5"/><path d="M206.2,138.8 C208.8,139.9 217.2,142.9 222.1,145.6 C227.0,148.4 231.7,151.7 235.7,155.3 C239.8,159.0 243.4,163.1 246.3,167.4 C249.3,171.8 251.7,176.5 253.4,181.3 C255.1,186.1 256.1,191.2 256.5,196.2 C256.8,201.2 256.5,206.4 255.4,211.3 C254.4,216.2 252.7,221.2 250.3,225.8 C248.0,230.4 245.0,234.9 241.4,238.9 C237.9,242.9 233.7,246.7 229.2,249.9 C224.7,253.1 219.6,255.9 214.4,258.2 C209.1,260.4 203.4,262.2 197.7,263.4 C191.9,264.5 182.9,264.8 180.0,265.1"/><path d="M207.6,135.5 C210.4,136.7 219.2,139.7 224.4,142.6 C229.6,145.5 234.5,149.0 238.8,152.9 C243.0,156.7 246.9,161.1 250.0,165.7 C253.1,170.2 255.6,175.2 257.4,180.3 C259.2,185.4 260.3,190.7 260.7,196.0 C261.0,201.3 260.7,206.7 259.6,211.9 C258.5,217.1 256.7,222.4 254.2,227.2 C251.7,232.1 248.5,236.8 244.8,241.0 C241.1,245.2 236.7,249.2 231.9,252.6 C227.2,256.0 221.8,259.0 216.3,261.4 C210.7,263.7 204.7,265.6 198.6,266.8 C192.6,268.0 183.1,268.4 180.0,268.7"/><path d="M209.1,132.1 C212.0,133.4 221.2,136.6 226.7,139.6 C232.2,142.7 237.3,146.4 241.8,150.4 C246.3,154.5 250.3,159.1 253.6,163.9 C256.9,168.7 259.6,174.0 261.4,179.3 C263.3,184.6 264.5,190.3 264.9,195.8 C265.2,201.3 264.8,207.1 263.7,212.5 C262.6,218.0 260.6,223.5 258.0,228.6 C255.5,233.7 252.1,238.7 248.2,243.1 C244.3,247.6 239.6,251.8 234.6,255.3 C229.6,258.9 224.0,262.1 218.1,264.6 C212.3,267.1 206.0,269.0 199.6,270.3 C193.2,271.6 183.3,271.9 180.0,272.2"/><path d="M210.5,128.8 C213.6,130.1 223.3,133.5 229.0,136.7 C234.7,139.9 240.2,143.7 244.9,148.0 C249.6,152.2 253.8,157.0 257.2,162.1 C260.7,167.1 263.5,172.7 265.5,178.3 C267.4,183.8 268.7,189.8 269.0,195.6 C269.4,201.4 269.0,207.4 267.8,213.2 C266.7,218.9 264.6,224.7 261.9,230.0 C259.2,235.4 255.6,240.6 251.5,245.3 C247.5,250.0 242.6,254.3 237.3,258.1 C232.1,261.8 226.2,265.1 220.0,267.8 C213.9,270.4 207.2,272.4 200.6,273.8 C193.9,275.1 183.4,275.5 180.0,275.8"/><path d="M211.9,125.4 C215.2,126.8 225.3,130.3 231.3,133.7 C237.3,137.0 243.0,141.1 247.9,145.5 C252.9,150.0 257.3,155.0 260.9,160.3 C264.5,165.6 267.4,171.4 269.5,177.2 C271.5,183.1 272.8,189.3 273.2,195.4 C273.7,201.5 273.2,207.8 272.0,213.8 C270.7,219.8 268.6,225.8 265.8,231.4 C262.9,237.0 259.2,242.5 254.9,247.4 C250.6,252.3 245.5,256.9 240.0,260.8 C234.5,264.7 228.3,268.2 221.9,270.9 C215.5,273.7 208.5,275.8 201.5,277.3 C194.6,278.7 183.6,279.0 180.0,279.4"/></g><g clip-path="url(#cbclip)"><path d="M100,225 C150,262 220,255 275,200 L275,270 L100,270 Z" fill="#4d4838" opacity="0.22" filter="url(#blur3)"/></g><path d="M109.0,203.1 C107.6,206.8 110.1,209.7 111.6,214.0 C113.1,218.3 114.3,223.6 118.0,229.0 C121.7,234.4 128.0,242.1 134.0,246.4 C140.0,250.7 147.3,253.4 154.0,255.0 C160.7,256.6 166.9,256.3 174.0,256.0 C181.1,255.7 190.1,254.3 196.4,253.0 C202.7,251.7 206.3,250.8 212.0,248.0 C217.7,245.2 223.9,240.1 230.8,236.0 C237.7,231.9 247.9,228.4 253.6,223.6 C259.3,218.8 263.4,211.7 265.0,207.0 C266.6,202.3 265.8,198.6 263.3,195.4 C260.8,192.2 257.2,189.6 250.0,188.0 C242.8,186.4 230.0,186.7 220.0,186.0 C210.0,185.3 201.7,184.3 190.0,184.0 C178.3,183.7 161.7,182.7 150.0,184.0 C138.3,185.3 126.8,188.8 120.0,192.0 C113.2,195.2 110.4,199.4 109.0,203.1 Z" fill="none" stroke="#2a261c" stroke-width="1.8"/><path d="M189.5,53.7 C191.6,54.0 194.0,53.7 196.2,54.4 C198.3,55.0 200.2,57.1 202.3,57.6 C204.4,58.1 206.6,57.0 208.5,57.3 C210.4,57.7 212.1,58.8 213.7,59.5 C215.3,60.2 216.9,60.6 218.1,61.7 C219.4,62.8 219.9,65.5 221.3,66.1 C222.7,66.7 224.9,65.0 226.4,65.0 C227.8,65.0 228.4,65.8 229.9,66.1 C231.4,66.4 233.9,66.4 235.5,67.0 C237.1,67.7 238.0,68.8 239.4,69.9 C240.8,71.0 242.9,71.9 244.2,73.3 C245.4,74.8 245.6,77.1 247.0,78.5 C248.4,79.9 251.2,80.3 252.8,81.6 C254.4,82.8 255.1,84.6 256.5,86.1 C257.9,87.6 260.2,88.7 261.5,90.3 C262.7,91.9 263.1,94.2 264.1,95.6 C265.1,97.0 266.6,97.7 267.2,99.0 C267.9,100.2 267.1,102.1 267.9,103.2 C268.7,104.3 271.1,104.8 272.0,105.7 C273.0,106.7 272.8,107.6 273.6,108.9 C274.4,110.2 276.1,111.8 276.8,113.4 C277.4,115.0 276.8,116.6 277.4,118.4 C278.0,120.2 279.6,122.4 280.1,124.5 C280.6,126.5 279.9,128.5 280.2,130.7 C280.5,132.9 281.8,135.2 282.0,137.4 C282.2,139.7 281.1,141.3 281.2,144.0 C281.3,146.7 282.5,150.6 282.5,153.8 C282.5,157.0 281.5,160.4 281.2,163.0 C280.9,165.6 281.4,167.3 281.0,169.2 C280.5,171.1 278.9,172.6 278.3,174.4 C277.7,176.2 277.9,178.2 277.1,179.7 C276.3,181.3 274.2,182.5 273.6,183.9 C273.0,185.3 274.1,187.1 273.8,188.4 C273.4,189.7 272.3,190.2 271.7,191.5 C271.1,192.8 270.8,194.8 269.9,196.1 C268.9,197.3 267.3,199.2 266.0,199.1 C264.7,199.0 263.8,197.0 262.3,195.6 C260.7,194.2 260.3,191.5 256.5,190.5 C252.7,189.5 245.3,188.8 239.4,189.6 C233.5,190.4 227.9,194.2 221.3,195.3 C214.7,196.4 206.1,197.6 200.0,196.0 C193.9,194.4 189.7,188.3 185.0,186.0 C180.3,183.7 176.9,183.0 172.0,182.0 C167.1,181.0 160.0,180.1 155.7,180.1 C151.4,180.1 149.7,181.4 146.2,182.0 C142.7,182.6 138.0,182.6 134.8,183.9 C131.6,185.2 129.7,188.0 127.2,189.6 C124.7,191.2 122.4,190.9 119.6,193.4 C116.8,195.9 112.3,203.5 110.1,204.8 C107.9,206.1 107.7,201.9 106.3,201.0 C104.9,200.1 103.1,200.3 102.0,199.5 C100.9,198.7 100.7,197.2 99.6,196.2 C98.5,195.2 96.4,194.8 95.3,193.7 C94.2,192.6 94.0,190.8 93.0,189.6 C92.0,188.4 90.3,187.8 89.5,186.5 C88.7,185.2 89.0,183.5 88.2,182.0 C87.4,180.5 85.5,179.1 84.7,177.3 C83.9,175.6 84.2,172.9 83.5,171.5 C82.8,170.1 81.0,170.1 80.4,169.1 C79.8,168.2 80.2,167.1 79.7,165.8 C79.2,164.5 77.8,163.0 77.5,161.4 C77.2,159.8 77.7,157.7 77.8,156.3 C77.9,154.9 77.5,154.0 77.9,152.8 C78.4,151.5 80.6,150.1 80.6,148.7 C80.6,147.3 78.4,145.7 77.9,144.1 C77.4,142.5 78.1,141.2 77.8,139.2 C77.5,137.2 76.2,134.5 76.0,132.1 C75.8,129.8 76.7,127.1 76.8,125.0 C76.9,122.9 76.2,121.2 76.6,119.4 C76.9,117.5 78.4,115.9 78.9,114.0 C79.4,112.1 79.0,110.1 79.7,108.2 C80.4,106.4 82.2,104.7 83.0,103.0 C83.8,101.3 83.8,99.6 84.8,98.1 C85.8,96.6 87.9,95.4 89.0,94.0 C90.1,92.6 90.2,90.8 91.3,89.5 C92.5,88.1 94.7,87.3 96.0,86.0 C97.3,84.7 97.6,82.8 98.9,81.6 C100.2,80.3 102.6,79.7 104.0,78.5 C105.4,77.3 106.0,75.5 107.5,74.5 C109.0,73.4 111.4,73.0 113.0,72.0 C114.6,71.0 115.4,69.3 117.1,68.4 C118.7,67.5 121.3,67.5 123.0,66.6 C124.7,65.7 125.5,64.0 127.2,63.3 C128.9,62.5 131.3,62.7 133.0,62.0 C134.7,61.3 135.7,59.8 137.3,59.3 C139.0,58.8 141.1,59.3 143.0,58.8 C144.9,58.3 146.5,56.8 148.5,56.5 C150.5,56.1 152.9,56.8 155.0,56.5 C157.1,56.2 158.8,54.9 160.9,54.7 C162.9,54.6 165.5,55.7 167.4,55.5 C169.3,55.3 170.8,53.9 172.6,53.7 C174.3,53.5 176.1,54.7 178.0,54.5 C179.9,54.3 181.9,52.9 183.8,52.8 C185.7,52.7 187.4,53.4 189.5,53.7 Z" fill="url(#braing)" stroke="#221e16" stroke-width="2"/><g filter="url(#blur3)" opacity="0.55"><ellipse cx="130" cy="95" rx="22" ry="9" fill="#f2efe2" transform="rotate(-25 130 95)"/><ellipse cx="150" cy="120" rx="18" ry="7" fill="#f2efe2" transform="rotate(-15 150 120)"/><ellipse cx="120" cy="150" rx="25" ry="7" fill="#efe9d8" transform="rotate(20 120 150)"/><ellipse cx="230" cy="160" rx="25" ry="6" fill="#efe9d8"/><ellipse cx="245" cy="110" rx="10" ry="20" fill="#efe9d8"/><ellipse cx="170" cy="75" rx="15" ry="6" fill="#f2efe2"/></g><clipPath id="cbrclip"><path d="M189.5,53.7 C193.6,54.2 198.3,56.6 202.3,57.6 C206.3,58.6 210.5,58.1 213.7,59.5 C216.9,60.9 218.6,65.0 221.3,66.1 C224.0,67.2 226.9,65.5 229.9,66.1 C232.9,66.7 236.6,67.8 239.4,69.9 C242.2,72.0 244.2,75.8 247.0,78.5 C249.8,81.2 253.7,83.2 256.5,86.1 C259.4,88.9 262.2,92.8 264.1,95.6 C266.0,98.4 266.3,101.0 267.9,103.2 C269.5,105.4 272.0,106.4 273.6,108.9 C275.2,111.4 276.3,114.8 277.4,118.4 C278.5,122.0 279.6,126.4 280.2,130.7 C280.8,135.0 281.0,138.6 281.2,144.0 C281.4,149.4 281.7,157.9 281.2,163.0 C280.7,168.1 279.6,170.9 278.3,174.4 C277.0,177.9 274.7,181.1 273.6,183.9 C272.5,186.8 273.0,189.0 271.7,191.5 C270.4,194.0 268.5,199.3 266.0,199.1 C263.5,198.9 260.9,192.1 256.5,190.5 C252.1,188.9 245.3,188.8 239.4,189.6 C233.5,190.4 227.9,194.2 221.3,195.3 C214.7,196.4 206.1,197.6 200.0,196.0 C193.9,194.4 189.7,188.3 185.0,186.0 C180.3,183.7 176.9,183.0 172.0,182.0 C167.1,181.0 160.0,180.1 155.7,180.1 C151.4,180.1 149.7,181.4 146.2,182.0 C142.7,182.6 138.0,182.6 134.8,183.9 C131.6,185.2 129.7,188.0 127.2,189.6 C124.7,191.2 122.4,190.9 119.6,193.4 C116.8,195.9 112.3,203.5 110.1,204.8 C107.9,206.1 108.0,202.4 106.3,201.0 C104.5,199.6 101.8,198.1 99.6,196.2 C97.4,194.3 94.9,192.0 93.0,189.6 C91.1,187.2 89.8,185.0 88.2,182.0 C86.6,179.0 84.9,174.2 83.5,171.5 C82.1,168.8 80.7,168.3 79.7,165.8 C78.8,163.3 77.7,159.2 77.8,156.3 C77.9,153.5 80.6,151.5 80.6,148.7 C80.6,145.8 78.4,143.1 77.8,139.2 C77.2,135.2 76.6,129.2 76.8,125.0 C77.0,120.8 77.9,117.7 78.9,114.0 C79.9,110.3 81.3,106.3 83.0,103.0 C84.7,99.7 86.8,96.8 89.0,94.0 C91.2,91.2 93.5,88.6 96.0,86.0 C98.5,83.4 101.2,80.8 104.0,78.5 C106.8,76.2 109.8,74.0 113.0,72.0 C116.2,70.0 119.7,68.3 123.0,66.6 C126.3,64.9 129.7,63.3 133.0,62.0 C136.3,60.7 139.3,59.7 143.0,58.8 C146.7,57.9 150.9,57.0 155.0,56.5 C159.1,56.0 163.6,55.8 167.4,55.5 C171.2,55.2 174.3,54.8 178.0,54.5 C181.7,54.2 185.4,53.2 189.5,53.7 Z"/></clipPath><g clip-path="url(#cbrclip)"><g filter="url(#blur15)" opacity="0.5" fill="none" stroke="#8a7f62" stroke-width="4.5" stroke-linecap="round"><path d="M156.6,76.6 C158.0,77.4 163.3,79.4 165.2,81.3 C167.1,83.2 168.3,85.3 168.0,88.0 C167.7,90.7 164.7,95.3 163.3,97.5 C161.9,99.7 158.9,99.4 159.5,101.3 C160.1,103.2 165.5,106.4 167.1,108.9 C168.7,111.4 166.6,114.5 169.0,116.5 C171.4,118.5 179.2,120.4 181.3,121.2"/><path d="M132.9,104.1 C134.5,103.5 138.3,100.8 142.4,100.3 C146.5,99.8 153.8,99.9 157.6,101.3 C161.4,102.7 163.8,106.4 165.2,108.9 C166.6,111.4 167.4,113.7 166.1,116.5 C164.8,119.3 158.1,122.8 157.6,126.0 C157.1,129.2 162.4,133.9 163.3,135.5"/><path d="M127.2,117.4 C125.9,116.9 120.5,117.0 119.6,114.6 C118.6,112.2 120.2,107.3 121.5,103.2 C122.8,99.1 124.7,92.9 127.2,89.9 C129.7,86.9 133.5,85.9 136.7,85.1 C139.9,84.3 143.5,84.3 146.2,85.1 C148.9,85.9 151.2,89.4 152.8,89.9 C154.4,90.4 155.2,88.3 155.7,88.0"/><path d="M104.4,122.2 C104.7,119.7 104.9,111.6 106.3,107.0 C107.7,102.4 110.9,97.1 112.9,94.6 C115.0,92.1 117.6,92.3 118.6,91.8"/><path d="M90.1,116.5 C91.0,115.9 93.9,113.2 95.8,112.7 C97.7,112.2 100.5,113.4 101.5,113.6"/><path d="M92.0,111.7 C92.5,110.3 93.8,105.4 94.9,103.2 C96.0,101.0 98.1,99.2 98.7,98.4"/><path d="M151.9,76.6 C152.8,76.4 155.9,76.5 157.6,75.6 C159.3,74.6 159.6,72.0 162.3,70.9 C165.0,69.8 168.6,69.2 173.7,69.0 C178.8,68.8 189.5,69.8 192.7,69.9"/><path d="M180.4,80.4 C179.6,81.5 177.7,85.4 175.6,87.0 C173.5,88.6 169.3,89.4 168.0,89.9"/><path d="M136.7,84.2 C137.3,82.6 138.3,77.2 140.5,74.7 C142.7,72.2 145.2,71.1 150.0,69.0 C154.8,66.9 163.3,63.2 169.0,62.3 C174.7,61.3 181.7,63.1 184.2,63.3"/><path d="M122.4,78.5 C122.9,77.5 123.5,74.9 125.3,72.8 C127.0,70.7 129.7,67.8 132.9,66.1 C136.1,64.3 142.4,62.9 144.3,62.3"/><path d="M96.8,91.8 C98.2,90.2 101.2,85.1 105.3,82.3 C109.4,79.5 115.0,77.9 121.5,74.7 C128.0,71.5 140.5,65.2 144.3,63.3"/><path d="M182.3,89.9 C182.6,92.1 182.5,98.8 184.2,103.2 C185.9,107.6 191.1,110.5 192.7,116.5 C194.3,122.5 193.5,135.5 193.7,139.3"/><path d="M174.7,102.2 C175.8,102.4 179.7,103.7 181.3,103.2 C182.9,102.7 183.7,100.0 184.2,99.4"/><path d="M172.8,126.9 C173.4,127.5 175.2,128.6 176.6,130.7 C178.0,132.8 180.5,137.9 181.3,139.3"/><path d="M137.6,108.9 C138.6,109.9 141.9,112.1 143.3,114.6 C144.7,117.1 145.1,121.1 146.2,124.1 C147.3,127.1 148.4,130.1 150.0,132.6 C151.6,135.1 154.9,137.3 155.7,139.2 C156.5,141.1 154.9,143.2 154.7,144.0"/><path d="M143.3,114.6 L152.8,111.7"/><path d="M185.0,57.0 C185.2,58.2 185.2,62.5 186.0,64.0 C186.8,65.5 189.3,65.7 190.0,66.0"/><path d="M92.0,143.0 C91.8,141.7 90.1,137.3 91.1,135.4 C92.0,133.5 96.0,132.2 97.7,131.6 C99.4,131.0 100.9,131.6 101.5,131.6"/><path d="M107.2,134.5 C108.0,133.9 109.9,131.2 112.0,130.7 C114.1,130.2 117.5,130.6 119.6,131.6 C121.6,132.6 123.5,135.6 124.3,136.4"/><path d="M105.3,125.0 C105.6,126.4 106.6,130.3 107.2,133.5 C107.8,136.7 107.5,141.0 109.1,144.0 C110.7,147.0 113.7,149.4 116.7,151.6 C119.7,153.8 123.6,155.4 127.2,157.3 C130.8,159.2 134.5,161.3 138.6,163.0 C142.7,164.7 147.8,166.6 151.9,167.7 C156.0,168.8 159.8,169.9 163.3,169.6 C166.8,169.3 171.2,166.4 172.8,165.8"/><path d="M130.0,128.8 C130.5,130.5 131.2,136.7 132.9,139.2 C134.7,141.7 138.3,142.9 140.5,144.0 C142.7,145.1 143.3,145.9 146.2,145.9 C149.0,145.9 154.4,143.5 157.6,144.0 C160.8,144.5 163.9,147.9 165.2,148.7"/><path d="M146.2,145.9 C146.5,147.0 146.5,150.3 148.1,152.5 C149.7,154.7 152.5,157.8 155.7,159.2 C158.9,160.6 163.9,160.9 167.1,161.1 C170.3,161.2 173.4,160.3 174.7,160.1"/><path d="M80.6,148.7 C82.7,150.0 88.9,153.9 93.0,156.3 C97.1,158.7 100.5,160.8 105.3,163.0 C110.0,165.2 116.4,167.5 121.5,169.6 C126.6,171.7 133.3,174.4 135.7,175.3"/><path d="M96.8,148.7 C97.8,150.1 100.8,154.6 102.5,157.3 C104.2,160.0 106.4,163.6 107.2,164.9"/><path d="M83.5,171.5 C84.6,172.6 87.6,176.8 90.1,178.2 C92.6,179.6 97.3,179.8 98.7,180.1"/><path d="M112.0,175.3 C112.5,176.4 114.8,179.9 114.8,182.0 C114.8,184.1 114.5,186.4 112.0,187.7 C109.5,189.0 101.7,189.3 99.6,189.6"/><path d="M112.0,187.7 C112.6,188.3 113.9,190.9 115.8,191.5 C117.7,192.1 122.1,191.5 123.4,191.5"/><path d="M229.9,66.1 C230.7,67.4 234.0,70.8 234.6,73.7 C235.2,76.6 234.2,80.2 233.7,83.2 C233.2,86.2 231.5,88.8 231.8,91.8 C232.1,94.8 234.7,98.8 235.6,101.3 C236.5,103.8 236.7,105.9 237.5,107.0 C238.3,108.1 239.8,107.8 240.3,107.9"/><path d="M234.6,78.5 C236.0,78.5 240.8,78.0 243.2,78.5 C245.6,79.0 247.9,80.8 248.9,81.3"/><path d="M241.3,82.3 C242.1,83.6 245.1,87.5 246.0,89.9 C246.9,92.3 247.5,95.1 247.0,96.5 C246.5,97.9 243.8,98.1 243.2,98.4"/><path d="M246.0,89.9 C247.4,90.4 251.9,91.4 254.6,92.7 C257.3,94.0 260.3,96.1 262.2,97.5 C264.1,98.9 265.4,100.7 266.0,101.3"/><path d="M249.8,103.2 C250.3,104.2 252.5,106.4 252.7,108.9 C252.9,111.4 251.8,115.6 250.8,118.4 C249.9,121.2 247.6,124.7 247.0,126.0"/><path d="M266.0,101.3 C266.5,102.9 267.9,107.8 268.8,110.8 C269.8,113.8 270.9,116.8 271.7,119.3 C272.5,121.8 273.3,124.9 273.6,126.0"/><path d="M216.6,122.2 C218.2,122.2 223.9,123.2 226.1,122.2 C228.3,121.2 229.3,117.5 229.9,116.5"/><path d="M254.6,127.9 C255.2,128.8 256.8,132.0 258.4,133.6 C260.0,135.2 261.7,137.1 264.1,137.4 C266.5,137.7 271.3,137.4 272.6,135.5 C273.9,133.6 271.9,127.6 271.7,126.0"/><path d="M204.2,147.8 C205.8,147.8 209.7,147.3 213.7,147.8 C217.7,148.3 224.5,150.6 228.0,150.6 C231.5,150.6 232.1,148.0 234.6,147.8 C237.1,147.7 240.3,150.3 243.2,149.7 C246.0,149.1 249.5,146.2 251.7,144.0 C253.9,141.8 256.0,138.8 256.5,136.4 C257.0,134.0 254.9,130.8 254.6,129.7"/><path d="M256.5,136.4 C258.1,136.2 263.6,134.6 266.0,135.4 C268.4,136.2 269.3,139.5 270.7,141.1 C272.1,142.7 273.9,144.3 274.5,144.9"/><path d="M213.7,157.3 C213.1,158.6 209.1,162.9 209.9,164.9 C210.7,166.9 214.7,169.3 218.5,169.6 C222.3,169.9 227.9,167.4 232.7,166.8 C237.4,166.2 243.0,166.4 247.0,165.8 C251.0,165.2 254.6,164.6 256.5,163.0 C258.4,161.4 258.6,158.5 258.4,156.3 C258.2,154.1 256.0,150.8 255.5,149.7"/><path d="M264.1,150.6 C265.1,151.1 268.2,152.4 269.8,153.5 C271.4,154.6 273.0,156.7 273.6,157.3"/><path d="M197.6,174.4 C198.7,174.1 202.1,174.1 204.2,172.5 C206.2,170.9 208.9,166.2 209.9,164.9"/><path d="M204.2,172.5 L208.0,182.0"/><path d="M260.3,171.5 C260.9,172.9 263.3,177.7 264.1,180.1 C264.9,182.5 264.9,184.9 265.0,185.8"/><path d="M264.1,180.1 C265.4,179.8 270.0,179.6 271.7,178.2 C273.4,176.8 274.0,172.6 274.5,171.5"/><path d="M190.0,183.9 L195.7,186.7"/><path d="M233.7,191.5 L243.2,182.9"/><path d="M170.0,140.0 C171.0,141.2 175.7,144.3 176.0,147.0 C176.3,149.7 172.7,154.5 172.0,156.0"/><path d="M180.0,160.0 C181.0,161.3 183.3,166.3 186.0,168.0 C188.7,169.7 194.3,169.7 196.0,170.0"/><path d="M189.5,53.7 C193.6,54.2 198.3,56.6 202.3,57.6 C206.3,58.6 210.5,58.1 213.7,59.5 C216.9,60.9 218.6,65.0 221.3,66.1 C224.0,67.2 226.9,65.5 229.9,66.1 C232.9,66.7 236.6,67.8 239.4,69.9 C242.2,72.0 244.2,75.8 247.0,78.5 C249.8,81.2 253.7,83.2 256.5,86.1 C259.4,88.9 262.2,92.8 264.1,95.6 C266.0,98.4 266.3,101.0 267.9,103.2 C269.5,105.4 272.0,106.4 273.6,108.9 C275.2,111.4 276.3,114.8 277.4,118.4 C278.5,122.0 279.6,126.4 280.2,130.7 C280.8,135.0 281.0,138.6 281.2,144.0 C281.4,149.4 281.7,157.9 281.2,163.0 C280.7,168.1 279.6,170.9 278.3,174.4 C277.0,177.9 274.7,181.1 273.6,183.9 C272.5,186.8 273.0,189.0 271.7,191.5 C270.4,194.0 268.5,199.3 266.0,199.1 C263.5,198.9 260.9,192.1 256.5,190.5 C252.1,188.9 245.3,188.8 239.4,189.6 C233.5,190.4 227.9,194.2 221.3,195.3 C214.7,196.4 206.1,197.6 200.0,196.0 C193.9,194.4 189.7,188.3 185.0,186.0 C180.3,183.7 176.9,183.0 172.0,182.0 C167.1,181.0 160.0,180.1 155.7,180.1 C151.4,180.1 149.7,181.4 146.2,182.0 C142.7,182.6 138.0,182.6 134.8,183.9 C131.6,185.2 129.7,188.0 127.2,189.6 C124.7,191.2 122.4,190.9 119.6,193.4 C116.8,195.9 112.3,203.5 110.1,204.8 C107.9,206.1 108.0,202.4 106.3,201.0 C104.5,199.6 101.8,198.1 99.6,196.2 C97.4,194.3 94.9,192.0 93.0,189.6 C91.1,187.2 89.8,185.0 88.2,182.0 C86.6,179.0 84.9,174.2 83.5,171.5 C82.1,168.8 80.7,168.3 79.7,165.8 C78.8,163.3 77.7,159.2 77.8,156.3 C77.9,153.5 80.6,151.5 80.6,148.7 C80.6,145.8 78.4,143.1 77.8,139.2 C77.2,135.2 76.6,129.2 76.8,125.0 C77.0,120.8 77.9,117.7 78.9,114.0 C79.9,110.3 81.3,106.3 83.0,103.0 C84.7,99.7 86.8,96.8 89.0,94.0 C91.2,91.2 93.5,88.6 96.0,86.0 C98.5,83.4 101.2,80.8 104.0,78.5 C106.8,76.2 109.8,74.0 113.0,72.0 C116.2,70.0 119.7,68.3 123.0,66.6 C126.3,64.9 129.7,63.3 133.0,62.0 C136.3,60.7 139.3,59.7 143.0,58.8 C146.7,57.9 150.9,57.0 155.0,56.5 C159.1,56.0 163.6,55.8 167.4,55.5 C171.2,55.2 174.3,54.8 178.0,54.5 C181.7,54.2 185.4,53.2 189.5,53.7 Z" stroke-width="6"/></g></g><path d="M156.6,76.6 C158.0,77.4 163.3,79.4 165.2,81.3 C167.1,83.2 168.3,85.3 168.0,88.0 C167.7,90.7 164.7,95.3 163.3,97.5 C161.9,99.7 158.9,99.4 159.5,101.3 C160.1,103.2 165.5,106.4 167.1,108.9 C168.7,111.4 166.6,114.5 169.0,116.5 C171.4,118.5 179.2,120.4 181.3,121.2" fill="none" stroke="#3b3426" stroke-width="1.1" stroke-linecap="round"/><path d="M132.9,104.1 C134.5,103.5 138.3,100.8 142.4,100.3 C146.5,99.8 153.8,99.9 157.6,101.3 C161.4,102.7 163.8,106.4 165.2,108.9 C166.6,111.4 167.4,113.7 166.1,116.5 C164.8,119.3 158.1,122.8 157.6,126.0 C157.1,129.2 162.4,133.9 163.3,135.5" fill="none" stroke="#3b3426" stroke-width="1.1" stroke-linecap="round"/><path d="M127.2,117.4 C125.9,116.9 120.5,117.0 119.6,114.6 C118.6,112.2 120.2,107.3 121.5,103.2 C122.8,99.1 124.7,92.9 127.2,89.9 C129.7,86.9 133.5,85.9 136.7,85.1 C139.9,84.3 143.5,84.3 146.2,85.1 C148.9,85.9 151.2,89.4 152.8,89.9 C154.4,90.4 155.2,88.3 155.7,88.0" fill="none" stroke="#3b3426" stroke-width="1.1" stroke-linecap="round"/><path d="M104.4,122.2 C104.7,119.7 104.9,111.6 106.3,107.0 C107.7,102.4 110.9,97.1 112.9,94.6 C115.0,92.1 117.6,92.3 118.6,91.8" fill="none" stroke="#3b3426" stroke-width="1.1" stroke-linecap="round"/><path d="M90.1,116.5 C91.0,115.9 93.9,113.2 95.8,112.7 C97.7,112.2 100.5,113.4 101.5,113.6" fill="none" stroke="#3b3426" stroke-width="1.1" stroke-linecap="round"/><path d="M92.0,111.7 C92.5,110.3 93.8,105.4 94.9,103.2 C96.0,101.0 98.1,99.2 98.7,98.4" fill="none" stroke="#3b3426" stroke-width="1.1" stroke-linecap="round"/><path d="M151.9,76.6 C152.8,76.4 155.9,76.5 157.6,75.6 C159.3,74.6 159.6,72.0 162.3,70.9 C165.0,69.8 168.6,69.2 173.7,69.0 C178.8,68.8 189.5,69.8 192.7,69.9" fill="none" stroke="#3b3426" stroke-width="1.1" stroke-linecap="round"/><path d="M180.4,80.4 C179.6,81.5 177.7,85.4 175.6,87.0 C173.5,88.6 169.3,89.4 168.0,89.9" fill="none" stroke="#3b3426" stroke-width="1.1" stroke-linecap="round"/><path d="M136.7,84.2 C137.3,82.6 138.3,77.2 140.5,74.7 C142.7,72.2 145.2,71.1 150.0,69.0 C154.8,66.9 163.3,63.2 169.0,62.3 C174.7,61.3 181.7,63.1 184.2,63.3" fill="none" stroke="#3b3426" stroke-width="1.1" stroke-linecap="round"/><path d="M122.4,78.5 C122.9,77.5 123.5,74.9 125.3,72.8 C127.0,70.7 129.7,67.8 132.9,66.1 C136.1,64.3 142.4,62.9 144.3,62.3" fill="none" stroke="#3b3426" stroke-width="1.1" stroke-linecap="round"/><path d="M96.8,91.8 C98.2,90.2 101.2,85.1 105.3,82.3 C109.4,79.5 115.0,77.9 121.5,74.7 C128.0,71.5 140.5,65.2 144.3,63.3" fill="none" stroke="#3b3426" stroke-width="1.1" stroke-linecap="round"/><path d="M182.3,89.9 C182.6,92.1 182.5,98.8 184.2,103.2 C185.9,107.6 191.1,110.5 192.7,116.5 C194.3,122.5 193.5,135.5 193.7,139.3" fill="none" stroke="#3b3426" stroke-width="1.1" stroke-linecap="round"/><path d="M174.7,102.2 C175.8,102.4 179.7,103.7 181.3,103.2 C182.9,102.7 183.7,100.0 184.2,99.4" fill="none" stroke="#3b3426" stroke-width="1.1" stroke-linecap="round"/><path d="M172.8,126.9 C173.4,127.5 175.2,128.6 176.6,130.7 C178.0,132.8 180.5,137.9 181.3,139.3" fill="none" stroke="#3b3426" stroke-width="1.1" stroke-linecap="round"/><path d="M137.6,108.9 C138.6,109.9 141.9,112.1 143.3,114.6 C144.7,117.1 145.1,121.1 146.2,124.1 C147.3,127.1 148.4,130.1 150.0,132.6 C151.6,135.1 154.9,137.3 155.7,139.2 C156.5,141.1 154.9,143.2 154.7,144.0" fill="none" stroke="#3b3426" stroke-width="1.1" stroke-linecap="round"/><path d="M143.3,114.6 L152.8,111.7" fill="none" stroke="#3b3426" stroke-width="1.1" stroke-linecap="round"/><path d="M185.0,57.0 C185.2,58.2 185.2,62.5 186.0,64.0 C186.8,65.5 189.3,65.7 190.0,66.0" fill="none" stroke="#3b3426" stroke-width="1.1" stroke-linecap="round"/><path d="M92.0,143.0 C91.8,141.7 90.1,137.3 91.1,135.4 C92.0,133.5 96.0,132.2 97.7,131.6 C99.4,131.0 100.9,131.6 101.5,131.6" fill="none" stroke="#3b3426" stroke-width="1.1" stroke-linecap="round"/><path d="M107.2,134.5 C108.0,133.9 109.9,131.2 112.0,130.7 C114.1,130.2 117.5,130.6 119.6,131.6 C121.6,132.6 123.5,135.6 124.3,136.4" fill="none" stroke="#3b3426" stroke-width="1.1" stroke-linecap="round"/><path d="M105.3,125.0 C105.6,126.4 106.6,130.3 107.2,133.5 C107.8,136.7 107.5,141.0 109.1,144.0 C110.7,147.0 113.7,149.4 116.7,151.6 C119.7,153.8 123.6,155.4 127.2,157.3 C130.8,159.2 134.5,161.3 138.6,163.0 C142.7,164.7 147.8,166.6 151.9,167.7 C156.0,168.8 159.8,169.9 163.3,169.6 C166.8,169.3 171.2,166.4 172.8,165.8" fill="none" stroke="#3b3426" stroke-width="1.1" stroke-linecap="round"/><path d="M130.0,128.8 C130.5,130.5 131.2,136.7 132.9,139.2 C134.7,141.7 138.3,142.9 140.5,144.0 C142.7,145.1 143.3,145.9 146.2,145.9 C149.0,145.9 154.4,143.5 157.6,144.0 C160.8,144.5 163.9,147.9 165.2,148.7" fill="none" stroke="#3b3426" stroke-width="1.1" stroke-linecap="round"/><path d="M146.2,145.9 C146.5,147.0 146.5,150.3 148.1,152.5 C149.7,154.7 152.5,157.8 155.7,159.2 C158.9,160.6 163.9,160.9 167.1,161.1 C170.3,161.2 173.4,160.3 174.7,160.1" fill="none" stroke="#3b3426" stroke-width="1.1" stroke-linecap="round"/><path d="M80.6,148.7 C82.7,150.0 88.9,153.9 93.0,156.3 C97.1,158.7 100.5,160.8 105.3,163.0 C110.0,165.2 116.4,167.5 121.5,169.6 C126.6,171.7 133.3,174.4 135.7,175.3" fill="none" stroke="#3b3426" stroke-width="1.1" stroke-linecap="round"/><path d="M96.8,148.7 C97.8,150.1 100.8,154.6 102.5,157.3 C104.2,160.0 106.4,163.6 107.2,164.9" fill="none" stroke="#3b3426" stroke-width="1.1" stroke-linecap="round"/><path d="M83.5,171.5 C84.6,172.6 87.6,176.8 90.1,178.2 C92.6,179.6 97.3,179.8 98.7,180.1" fill="none" stroke="#3b3426" stroke-width="1.1" stroke-linecap="round"/><path d="M112.0,175.3 C112.5,176.4 114.8,179.9 114.8,182.0 C114.8,184.1 114.5,186.4 112.0,187.7 C109.5,189.0 101.7,189.3 99.6,189.6" fill="none" stroke="#3b3426" stroke-width="1.1" stroke-linecap="round"/><path d="M112.0,187.7 C112.6,188.3 113.9,190.9 115.8,191.5 C117.7,192.1 122.1,191.5 123.4,191.5" fill="none" stroke="#3b3426" stroke-width="1.1" stroke-linecap="round"/><path d="M229.9,66.1 C230.7,67.4 234.0,70.8 234.6,73.7 C235.2,76.6 234.2,80.2 233.7,83.2 C233.2,86.2 231.5,88.8 231.8,91.8 C232.1,94.8 234.7,98.8 235.6,101.3 C236.5,103.8 236.7,105.9 237.5,107.0 C238.3,108.1 239.8,107.8 240.3,107.9" fill="none" stroke="#3b3426" stroke-width="1.1" stroke-linecap="round"/><path d="M234.6,78.5 C236.0,78.5 240.8,78.0 243.2,78.5 C245.6,79.0 247.9,80.8 248.9,81.3" fill="none" stroke="#3b3426" stroke-width="1.1" stroke-linecap="round"/><path d="M241.3,82.3 C242.1,83.6 245.1,87.5 246.0,89.9 C246.9,92.3 247.5,95.1 247.0,96.5 C246.5,97.9 243.8,98.1 243.2,98.4" fill="none" stroke="#3b3426" stroke-width="1.1" stroke-linecap="round"/><path d="M246.0,89.9 C247.4,90.4 251.9,91.4 254.6,92.7 C257.3,94.0 260.3,96.1 262.2,97.5 C264.1,98.9 265.4,100.7 266.0,101.3" fill="none" stroke="#3b3426" stroke-width="1.1" stroke-linecap="round"/><path d="M249.8,103.2 C250.3,104.2 252.5,106.4 252.7,108.9 C252.9,111.4 251.8,115.6 250.8,118.4 C249.9,121.2 247.6,124.7 247.0,126.0" fill="none" stroke="#3b3426" stroke-width="1.1" stroke-linecap="round"/><path d="M266.0,101.3 C266.5,102.9 267.9,107.8 268.8,110.8 C269.8,113.8 270.9,116.8 271.7,119.3 C272.5,121.8 273.3,124.9 273.6,126.0" fill="none" stroke="#3b3426" stroke-width="1.1" stroke-linecap="round"/><path d="M216.6,122.2 C218.2,122.2 223.9,123.2 226.1,122.2 C228.3,121.2 229.3,117.5 229.9,116.5" fill="none" stroke="#3b3426" stroke-width="1.1" stroke-linecap="round"/><path d="M254.6,127.9 C255.2,128.8 256.8,132.0 258.4,133.6 C260.0,135.2 261.7,137.1 264.1,137.4 C266.5,137.7 271.3,137.4 272.6,135.5 C273.9,133.6 271.9,127.6 271.7,126.0" fill="none" stroke="#3b3426" stroke-width="1.1" stroke-linecap="round"/><path d="M204.2,147.8 C205.8,147.8 209.7,147.3 213.7,147.8 C217.7,148.3 224.5,150.6 228.0,150.6 C231.5,150.6 232.1,148.0 234.6,147.8 C237.1,147.7 240.3,150.3 243.2,149.7 C246.0,149.1 249.5,146.2 251.7,144.0 C253.9,141.8 256.0,138.8 256.5,136.4 C257.0,134.0 254.9,130.8 254.6,129.7" fill="none" stroke="#3b3426" stroke-width="1.1" stroke-linecap="round"/><path d="M256.5,136.4 C258.1,136.2 263.6,134.6 266.0,135.4 C268.4,136.2 269.3,139.5 270.7,141.1 C272.1,142.7 273.9,144.3 274.5,144.9" fill="none" stroke="#3b3426" stroke-width="1.1" stroke-linecap="round"/><path d="M213.7,157.3 C213.1,158.6 209.1,162.9 209.9,164.9 C210.7,166.9 214.7,169.3 218.5,169.6 C222.3,169.9 227.9,167.4 232.7,166.8 C237.4,166.2 243.0,166.4 247.0,165.8 C251.0,165.2 254.6,164.6 256.5,163.0 C258.4,161.4 258.6,158.5 258.4,156.3 C258.2,154.1 256.0,150.8 255.5,149.7" fill="none" stroke="#3b3426" stroke-width="1.1" stroke-linecap="round"/><path d="M264.1,150.6 C265.1,151.1 268.2,152.4 269.8,153.5 C271.4,154.6 273.0,156.7 273.6,157.3" fill="none" stroke="#3b3426" stroke-width="1.1" stroke-linecap="round"/><path d="M197.6,174.4 C198.7,174.1 202.1,174.1 204.2,172.5 C206.2,170.9 208.9,166.2 209.9,164.9" fill="none" stroke="#3b3426" stroke-width="1.1" stroke-linecap="round"/><path d="M204.2,172.5 L208.0,182.0" fill="none" stroke="#3b3426" stroke-width="1.1" stroke-linecap="round"/><path d="M260.3,171.5 C260.9,172.9 263.3,177.7 264.1,180.1 C264.9,182.5 264.9,184.9 265.0,185.8" fill="none" stroke="#3b3426" stroke-width="1.1" stroke-linecap="round"/><path d="M264.1,180.1 C265.4,179.8 270.0,179.6 271.7,178.2 C273.4,176.8 274.0,172.6 274.5,171.5" fill="none" stroke="#3b3426" stroke-width="1.1" stroke-linecap="round"/><path d="M190.0,183.9 L195.7,186.7" fill="none" stroke="#3b3426" stroke-width="1.1" stroke-linecap="round"/><path d="M233.7,191.5 L243.2,182.9" fill="none" stroke="#3b3426" stroke-width="1.1" stroke-linecap="round"/><path d="M170.0,140.0 C171.0,141.2 175.7,144.3 176.0,147.0 C176.3,149.7 172.7,154.5 172.0,156.0" fill="none" stroke="#3b3426" stroke-width="1.1" stroke-linecap="round"/><path d="M180.0,160.0 C181.0,161.3 183.3,166.3 186.0,168.0 C188.7,169.7 194.3,169.7 196.0,170.0" fill="none" stroke="#3b3426" stroke-width="1.1" stroke-linecap="round"/><path d="M138,174 L156,176 L156,181 L139,180 Z" fill="#d9d6cb" stroke="#2a261c" stroke-width="1"/><ellipse cx="159.5" cy="177.5" rx="4.5" ry="3" fill="#ebe9e0" stroke="#2a261c" stroke-width="1"/><path d="M201.9,57.6 C202.7,56.9 205.6,56.5 207.8,56.8 C210.1,57.1 213.4,58.5 215.4,59.3 C217.4,60.1 218.6,60.1 219.7,61.8 C220.8,63.5 222.6,67.6 222.2,69.4 C221.8,71.2 218.5,71.8 217.1,72.8 C215.7,73.8 214.4,73.8 213.8,75.3 C213.2,76.8 214.1,80.1 213.8,82.1 C213.5,84.1 211.8,85.1 212.1,87.1 C212.4,89.1 214.1,91.7 215.4,93.9 C216.7,96.2 218.7,98.1 219.7,100.6 C220.7,103.1 221.6,106.3 221.4,109.1 C221.2,111.9 220.0,114.5 218.8,117.5 C217.6,120.5 216.0,124.2 214.0,127.0 C212.0,129.8 209.2,133.3 207.0,134.0 C204.8,134.7 202.0,133.1 201.0,131.0 C200.0,128.9 200.7,124.7 201.1,121.7 C201.5,118.8 203.5,116.1 203.6,113.3 C203.7,110.5 203.0,107.4 201.9,104.9 C200.8,102.4 198.4,100.5 196.9,98.1 C195.4,95.7 193.1,92.9 192.7,90.5 C192.3,88.1 193.9,86.3 194.3,83.8 C194.7,81.3 195.5,77.7 195.2,75.3 C194.9,72.9 192.6,71.1 192.7,69.4 C192.8,67.7 194.5,66.2 196.0,65.2 C197.5,64.2 200.8,64.2 201.9,63.5 C203.0,62.8 202.8,62.0 202.8,61.0 C202.8,60.0 201.1,58.3 201.9,57.6 Z" fill="#6f7bb5" stroke="none"/><circle cx="189" cy="146.2" r="16" fill="#cfcabb"/><circle cx="189" cy="146.2" r="13.2" fill="#8c8fba"/><path d="M179,137 L199,155 M179,156 L199,137" stroke="#5e5f86" stroke-width="1.1" opacity="0.5"/><circle cx="189" cy="146.2" r="16.3" fill="none" stroke="#222" stroke-width="1.5" stroke-dasharray="2.6,2.1"/><path d="M175.0,266.0 C175.7,268.3 177.3,272.7 179.0,280.0 C180.7,287.3 183.4,298.3 185.1,310.0 C186.8,321.7 188.4,328.3 189.1,350.0 C189.8,371.7 189.2,410.0 189.5,440.0 C189.8,470.0 190.0,493.3 191.0,530.0 C192.0,566.7 194.4,631.7 195.6,660.0 C196.8,688.3 197.3,686.7 198.4,700.0 C199.5,713.3 200.6,726.7 202.0,740.0 C203.4,753.3 205.0,766.7 207.0,780.0 C209.0,793.3 212.2,808.3 214.0,820.0 C215.8,831.7 217.0,840.0 218.0,850.0 C219.0,860.0 219.6,870.0 220.2,880.0 C220.8,890.0 221.6,902.0 221.5,910.0 C221.4,918.0 219.8,925.0 219.5,928.0 C219,934 219,938 221,937.5 C223,936 224,930 224.5,928 L224.5,928.0 C225.5,925.0 228.6,918.0 230.5,910.0 C232.4,902.0 235.1,890.0 236.2,880.0 C237.3,870.0 237.3,860.0 237.1,850.0 C236.9,840.0 236.1,831.7 235.1,820.0 C234.1,808.3 232.9,793.3 231.1,780.0 C229.3,766.7 226.2,753.3 224.5,740.0 C222.8,726.7 221.8,713.3 221.1,700.0 C220.4,686.7 221.2,688.3 220.1,660.0 C219.0,631.7 215.7,566.7 214.5,530.0 C213.3,493.3 213.2,470.0 213.0,440.0 C212.8,410.0 213.5,371.7 213.2,350.0 C212.9,328.3 212.7,321.7 211.2,310.0 C209.7,298.3 206.1,287.3 204.2,280.0 C202.3,272.7 200.7,268.3 200.0,266.0 Z" fill="url(#cordg)" stroke="none"/><path d="M180.2,284.5 Q192.9,289.2 205.6,283.5" fill="none" stroke="#3a2619" stroke-width="1.5"/><path d="M183.9,302.5 Q196.8,307.2 209.8,301.5" fill="none" stroke="#3a2619" stroke-width="1.5"/><path d="M186.4,321.5 Q199.1,326.2 211.8,320.5" fill="none" stroke="#3a2619" stroke-width="1.5"/><path d="M188.3,340.5 Q200.5,345.2 212.8,339.5" fill="none" stroke="#3a2619" stroke-width="1.5"/><path d="M189.1,357.5 Q201.2,362.2 213.2,356.5" fill="none" stroke="#3a2619" stroke-width="1.5"/><path d="M189.2,376.5 Q201.2,381.2 213.1,375.5" fill="none" stroke="#3a2619" stroke-width="1.5"/><path d="M189.3,395.5 Q201.2,400.2 213.1,394.5" fill="none" stroke="#3a2619" stroke-width="1.5"/><path d="M189.4,412.5 Q201.2,417.2 213.1,411.5" fill="none" stroke="#3a2619" stroke-width="1.5"/><path d="M189.5,433.5 Q201.2,438.2 213.0,432.5" fill="none" stroke="#3a2619" stroke-width="1.5"/><path d="M189.8,455.5 Q201.5,460.2 213.3,454.5" fill="none" stroke="#3a2619" stroke-width="1.5"/><path d="M190.2,477.5 Q201.9,482.2 213.7,476.5" fill="none" stroke="#3a2619" stroke-width="1.5"/><path d="M190.5,499.5 Q202.3,504.2 214.0,498.5" fill="none" stroke="#3a2619" stroke-width="1.5"/><path d="M190.9,521.5 Q202.6,526.2 214.4,520.5" fill="none" stroke="#3a2619" stroke-width="1.5"/><path d="M191.5,543.5 Q203.3,548.2 215.1,542.5" fill="none" stroke="#3a2619" stroke-width="1.5"/><path d="M192.3,565.5 Q204.2,570.2 216.1,564.5" fill="none" stroke="#3a2619" stroke-width="1.5"/><path d="M193.1,587.5 Q205.1,592.2 217.0,586.5" fill="none" stroke="#3a2619" stroke-width="1.5"/><path d="M193.8,608.5 Q205.9,613.2 217.9,607.5" fill="none" stroke="#3a2619" stroke-width="1.5"/><path d="M194.6,629.5 Q206.7,634.2 218.9,628.5" fill="none" stroke="#3a2619" stroke-width="1.5"/><path d="M195.4,651.5 Q207.6,656.2 219.8,650.5" fill="none" stroke="#3a2619" stroke-width="1.5"/><path d="M196.7,673.5 Q208.6,678.2 220.5,672.5" fill="none" stroke="#3a2619" stroke-width="1.5"/><path d="M198.4,698.5 Q209.8,703.2 221.1,697.5" fill="none" stroke="#3a2619" stroke-width="1.5"/><path d="M200.6,722.5 Q211.8,727.2 223.1,721.5" fill="none" stroke="#3a2619" stroke-width="1.5"/><path d="M203.1,747.5 Q214.6,752.2 226.0,746.5" fill="none" stroke="#3a2619" stroke-width="1.5"/><path d="M206.2,772.5 Q218.2,777.2 230.1,771.5" fill="none" stroke="#3a2619" stroke-width="1.5"/><path d="M210.2,796.5 Q221.5,801.2 232.9,795.5" fill="none" stroke="#3a2619" stroke-width="1.5"/><path d="M214.8,824.5 Q225.2,829.2 235.5,823.5" fill="none" stroke="#3a2619" stroke-width="1.5"/><path d="M218.4,853.5 Q227.7,858.2 236.9,852.5" fill="none" stroke="#3a2619" stroke-width="1.5"/><path d="M220.2,879.5 Q228.1,884.2 236.0,878.5" fill="none" stroke="#3a2619" stroke-width="1.5"/><path d="M221.5,907.5 Q226.1,912.2 230.7,906.5" fill="none" stroke="#3a2619" stroke-width="1.5"/><path d="M193,266 C196,272 200,278 203,286" fill="none" stroke="#3a2619" stroke-width="1.2"/><path d="M175.0,266.0 C175.7,268.3 177.3,272.7 179.0,280.0 C180.7,287.3 183.4,298.3 185.1,310.0 C186.8,321.7 188.4,328.3 189.1,350.0 C189.8,371.7 189.2,410.0 189.5,440.0 C189.8,470.0 190.0,493.3 191.0,530.0 C192.0,566.7 194.4,631.7 195.6,660.0 C196.8,688.3 197.3,686.7 198.4,700.0 C199.5,713.3 200.6,726.7 202.0,740.0 C203.4,753.3 205.0,766.7 207.0,780.0 C209.0,793.3 212.2,808.3 214.0,820.0 C215.8,831.7 217.0,840.0 218.0,850.0 C219.0,860.0 219.6,870.0 220.2,880.0 C220.8,890.0 221.6,902.0 221.5,910.0 C221.4,918.0 219.8,925.0 219.5,928.0 C219,934 219,938 221,937.5 C223,936 224,930 224.5,928 L224.5,928.0 C225.5,925.0 228.6,918.0 230.5,910.0 C232.4,902.0 235.1,890.0 236.2,880.0 C237.3,870.0 237.3,860.0 237.1,850.0 C236.9,840.0 236.1,831.7 235.1,820.0 C234.1,808.3 232.9,793.3 231.1,780.0 C229.3,766.7 226.2,753.3 224.5,740.0 C222.8,726.7 221.8,713.3 221.1,700.0 C220.4,686.7 221.2,688.3 220.1,660.0 C219.0,631.7 215.7,566.7 214.5,530.0 C213.3,493.3 213.2,470.0 213.0,440.0 C212.8,410.0 213.5,371.7 213.2,350.0 C212.9,328.3 212.7,321.7 211.2,310.0 C209.7,298.3 206.1,287.3 204.2,280.0 C202.3,272.7 200.7,268.3 200.0,266.0 Z" fill="none" stroke="#2b1d14" stroke-width="1.8"/><path d="M161.8,223.2 C164,232 167,243 170,252 C173,262 176,270 178.5,280 L203.1,280 C201,268 199,258 198.2,249.9 C197,238 195,231 190,224 C185,220 170,220 161.8,223.2 Z" fill="url(#medg)" stroke="#2b1d14" stroke-width="1.6"/><path d="M186.1,222 C189,230 191,237 192,245 C194,255 197,268 200.7,280" fill="none" stroke="#2b1d14" stroke-width="1.2"/><path d="M150.3,181 C148,190 148,204 151,211 C154,217 158,221 164,222.5 C172,223 180,222 186,219 C192,215 194,208 193.4,203 C192,196 187,190 180,185 C172,180 160,178 150.3,181 Z" fill="url(#ponsg)" stroke="#2b1d14" stroke-width="1.6"/><path d="M155.8,180.8 C154.5,188 154,196 155,203 C156,210 159,216 164.3,221" fill="none" stroke="#2b1d14" stroke-width="1.2"/><ellipse cx="191" cy="217.2" rx="5" ry="5.2" fill="#a9a797" stroke="#2b1d14" stroke-width="1.1"/><path d="M200.8,293.1 L220.6,294.1" stroke="#2b2218" stroke-width="4.6" stroke-linecap="round"/><path d="M200.8,293.1 L220.6,294.1" stroke="#f1e0b4" stroke-width="2.4" stroke-linecap="round"/><path d="M228.6,297.1 L240.6,301.1" stroke="#2b2218" stroke-width="4.6" stroke-linecap="round"/><path d="M228.6,297.1 L240.6,301.1" stroke="#f1e0b4" stroke-width="2.4" stroke-linecap="round"/><ellipse cx="224.6" cy="295.6" rx="9.6" ry="6.8" fill="url(#gang)" stroke="#2b2218" stroke-width="1.5" transform="rotate(10 224.6 295.6)"/><path d="M204.5,314.0 L224.4,315.0" stroke="#2b2218" stroke-width="4.6" stroke-linecap="round"/><path d="M204.5,314.0 L224.4,315.0" stroke="#f1e0b4" stroke-width="2.4" stroke-linecap="round"/><path d="M232.4,318.0 L244.4,322.0" stroke="#2b2218" stroke-width="4.6" stroke-linecap="round"/><path d="M232.4,318.0 L244.4,322.0" stroke="#f1e0b4" stroke-width="2.4" stroke-linecap="round"/><ellipse cx="228.4" cy="316.5" rx="9.6" ry="6.8" fill="url(#gang)" stroke="#2b2218" stroke-width="1.5" transform="rotate(10 228.4 316.5)"/><path d="M205.6,334.9 L224.0,335.9" stroke="#2b2218" stroke-width="4.6" stroke-linecap="round"/><path d="M205.6,334.9 L224.0,335.9" stroke="#f1e0b4" stroke-width="2.4" stroke-linecap="round"/><path d="M232.0,338.9 L244.0,342.9" stroke="#2b2218" stroke-width="4.6" stroke-linecap="round"/><path d="M232.0,338.9 L244.0,342.9" stroke="#f1e0b4" stroke-width="2.4" stroke-linecap="round"/><ellipse cx="228" cy="337.4" rx="9.6" ry="6.8" fill="url(#gang)" stroke="#2b2218" stroke-width="1.5" transform="rotate(10 228 337.4)"/><path d="M206.2,355.8 L224.0,356.8" stroke="#2b2218" stroke-width="4.6" stroke-linecap="round"/><path d="M206.2,355.8 L224.0,356.8" stroke="#f1e0b4" stroke-width="2.4" stroke-linecap="round"/><path d="M232.0,359.8 L244.0,363.8" stroke="#2b2218" stroke-width="4.6" stroke-linecap="round"/><path d="M232.0,359.8 L244.0,363.8" stroke="#f1e0b4" stroke-width="2.4" stroke-linecap="round"/><ellipse cx="228" cy="358.3" rx="9.6" ry="6.8" fill="url(#gang)" stroke="#2b2218" stroke-width="1.5" transform="rotate(10 228 358.3)"/><path d="M206.1,373.8 L224.0,374.8" stroke="#2b2218" stroke-width="4.6" stroke-linecap="round"/><path d="M206.1,373.8 L224.0,374.8" stroke="#f1e0b4" stroke-width="2.4" stroke-linecap="round"/><path d="M232.0,377.8 L244.0,381.8" stroke="#2b2218" stroke-width="4.6" stroke-linecap="round"/><path d="M232.0,377.8 L244.0,381.8" stroke="#f1e0b4" stroke-width="2.4" stroke-linecap="round"/><ellipse cx="228" cy="376.3" rx="9.6" ry="6.8" fill="url(#gang)" stroke="#2b2218" stroke-width="1.5" transform="rotate(10 228 376.3)"/><path d="M206.1,390.0 L224.0,391.0" stroke="#2b2218" stroke-width="4.6" stroke-linecap="round"/><path d="M206.1,390.0 L224.0,391.0" stroke="#f1e0b4" stroke-width="2.4" stroke-linecap="round"/><path d="M232.0,394.0 L244.0,398.0" stroke="#2b2218" stroke-width="4.6" stroke-linecap="round"/><path d="M232.0,394.0 L244.0,398.0" stroke="#f1e0b4" stroke-width="2.4" stroke-linecap="round"/><ellipse cx="228" cy="392.5" rx="9.6" ry="6.8" fill="url(#gang)" stroke="#2b2218" stroke-width="1.5" transform="rotate(10 228 392.5)"/><ellipse cx="227.4" cy="409.5" rx="9.6" ry="6.8" fill="url(#gang)" stroke="#2b2218" stroke-width="1.5" transform="rotate(10 227.4 409.5)"/><path d="M206.0,429.8 L224.0,430.8" stroke="#2b2218" stroke-width="4.6" stroke-linecap="round"/><path d="M206.0,429.8 L224.0,430.8" stroke="#f1e0b4" stroke-width="2.4" stroke-linecap="round"/><path d="M232.0,433.8 L244.0,437.8" stroke="#2b2218" stroke-width="4.6" stroke-linecap="round"/><path d="M232.0,433.8 L244.0,437.8" stroke="#f1e0b4" stroke-width="2.4" stroke-linecap="round"/><ellipse cx="228" cy="432.3" rx="9.6" ry="6.8" fill="url(#gang)" stroke="#2b2218" stroke-width="1.5" transform="rotate(10 228 432.3)"/><path d="M206.2,452.2 L226.8,453.2" stroke="#2b2218" stroke-width="4.6" stroke-linecap="round"/><path d="M206.2,452.2 L226.8,453.2" stroke="#f1e0b4" stroke-width="2.4" stroke-linecap="round"/><path d="M234.8,456.2 L246.8,460.2" stroke="#2b2218" stroke-width="4.6" stroke-linecap="round"/><path d="M234.8,456.2 L246.8,460.2" stroke="#f1e0b4" stroke-width="2.4" stroke-linecap="round"/><ellipse cx="230.8" cy="454.7" rx="9.6" ry="6.8" fill="url(#gang)" stroke="#2b2218" stroke-width="1.5" transform="rotate(10 230.8 454.7)"/><path d="M206.6,474.1 L226.8,475.1" stroke="#2b2218" stroke-width="4.6" stroke-linecap="round"/><path d="M206.6,474.1 L226.8,475.1" stroke="#f1e0b4" stroke-width="2.4" stroke-linecap="round"/><path d="M234.8,478.1 L246.8,482.1" stroke="#2b2218" stroke-width="4.6" stroke-linecap="round"/><path d="M234.8,478.1 L246.8,482.1" stroke="#f1e0b4" stroke-width="2.4" stroke-linecap="round"/><ellipse cx="230.8" cy="476.6" rx="9.6" ry="6.8" fill="url(#gang)" stroke="#2b2218" stroke-width="1.5" transform="rotate(10 230.8 476.6)"/><path d="M206.9,490.0 L226.8,491.0" stroke="#2b2218" stroke-width="4.6" stroke-linecap="round"/><path d="M206.9,490.0 L226.8,491.0" stroke="#f1e0b4" stroke-width="2.4" stroke-linecap="round"/><path d="M234.8,494.0 L246.8,498.0" stroke="#2b2218" stroke-width="4.6" stroke-linecap="round"/><path d="M234.8,494.0 L246.8,498.0" stroke="#f1e0b4" stroke-width="2.4" stroke-linecap="round"/><ellipse cx="230.8" cy="492.5" rx="9.6" ry="6.8" fill="url(#gang)" stroke="#2b2218" stroke-width="1.5" transform="rotate(10 230.8 492.5)"/><path d="M207.3,513.0 L225.0,514.0" stroke="#2b2218" stroke-width="4.6" stroke-linecap="round"/><path d="M207.3,513.0 L225.0,514.0" stroke="#f1e0b4" stroke-width="2.4" stroke-linecap="round"/><path d="M233.0,517.0 L245.0,521.0" stroke="#2b2218" stroke-width="4.6" stroke-linecap="round"/><path d="M233.0,517.0 L245.0,521.0" stroke="#f1e0b4" stroke-width="2.4" stroke-linecap="round"/><ellipse cx="229" cy="515.5" rx="9.6" ry="6.8" fill="url(#gang)" stroke="#2b2218" stroke-width="1.5" transform="rotate(10 229 515.5)"/><path d="M207.7,531.1 L226.8,532.1" stroke="#2b2218" stroke-width="4.6" stroke-linecap="round"/><path d="M207.7,531.1 L226.8,532.1" stroke="#f1e0b4" stroke-width="2.4" stroke-linecap="round"/><path d="M234.8,535.1 L246.8,539.1" stroke="#2b2218" stroke-width="4.6" stroke-linecap="round"/><path d="M234.8,535.1 L246.8,539.1" stroke="#f1e0b4" stroke-width="2.4" stroke-linecap="round"/><ellipse cx="230.8" cy="533.6" rx="9.6" ry="6.8" fill="url(#gang)" stroke="#2b2218" stroke-width="1.5" transform="rotate(10 230.8 533.6)"/><path d="M208.7,554.9 L227.0,555.9" stroke="#2b2218" stroke-width="4.6" stroke-linecap="round"/><path d="M208.7,554.9 L227.0,555.9" stroke="#f1e0b4" stroke-width="2.4" stroke-linecap="round"/><path d="M235.0,558.9 L247.0,562.9" stroke="#2b2218" stroke-width="4.6" stroke-linecap="round"/><path d="M235.0,558.9 L247.0,562.9" stroke="#f1e0b4" stroke-width="2.4" stroke-linecap="round"/><ellipse cx="231" cy="557.4" rx="9.6" ry="6.8" fill="url(#gang)" stroke="#2b2218" stroke-width="1.5" transform="rotate(10 231 557.4)"/><path d="M209.6,576.8 L228.0,577.8" stroke="#2b2218" stroke-width="4.6" stroke-linecap="round"/><path d="M209.6,576.8 L228.0,577.8" stroke="#f1e0b4" stroke-width="2.4" stroke-linecap="round"/><path d="M236.0,580.8 L248.0,584.8" stroke="#2b2218" stroke-width="4.6" stroke-linecap="round"/><path d="M236.0,580.8 L248.0,584.8" stroke="#f1e0b4" stroke-width="2.4" stroke-linecap="round"/><ellipse cx="232" cy="579.3" rx="9.6" ry="6.8" fill="url(#gang)" stroke="#2b2218" stroke-width="1.5" transform="rotate(10 232 579.3)"/><path d="M210.7,602.3 L229.0,603.3" stroke="#2b2218" stroke-width="4.6" stroke-linecap="round"/><path d="M210.7,602.3 L229.0,603.3" stroke="#f1e0b4" stroke-width="2.4" stroke-linecap="round"/><path d="M237.0,606.3 L249.0,610.3" stroke="#2b2218" stroke-width="4.6" stroke-linecap="round"/><path d="M237.0,606.3 L249.0,610.3" stroke="#f1e0b4" stroke-width="2.4" stroke-linecap="round"/><ellipse cx="233" cy="604.8" rx="9.6" ry="6.8" fill="url(#gang)" stroke="#2b2218" stroke-width="1.5" transform="rotate(10 233 604.8)"/><path d="M211.6,623.4 L230.0,624.4" stroke="#2b2218" stroke-width="4.6" stroke-linecap="round"/><path d="M211.6,623.4 L230.0,624.4" stroke="#f1e0b4" stroke-width="2.4" stroke-linecap="round"/><path d="M238.0,627.4 L250.0,631.4" stroke="#2b2218" stroke-width="4.6" stroke-linecap="round"/><path d="M238.0,627.4 L250.0,631.4" stroke="#f1e0b4" stroke-width="2.4" stroke-linecap="round"/><ellipse cx="234" cy="625.9" rx="9.6" ry="6.8" fill="url(#gang)" stroke="#2b2218" stroke-width="1.5" transform="rotate(10 234 625.9)"/><path d="M212.5,642.5 L232.0,643.5" stroke="#2b2218" stroke-width="4.6" stroke-linecap="round"/><path d="M212.5,642.5 L232.0,643.5" stroke="#f1e0b4" stroke-width="2.4" stroke-linecap="round"/><path d="M240.0,646.5 L252.0,650.5" stroke="#2b2218" stroke-width="4.6" stroke-linecap="round"/><path d="M240.0,646.5 L252.0,650.5" stroke="#f1e0b4" stroke-width="2.4" stroke-linecap="round"/><ellipse cx="236" cy="645" rx="9.6" ry="6.8" fill="url(#gang)" stroke="#2b2218" stroke-width="1.5" transform="rotate(10 236 645)"/><path d="M213.3,667.5 L234.1,668.5" stroke="#2b2218" stroke-width="4.6" stroke-linecap="round"/><path d="M213.3,667.5 L234.1,668.5" stroke="#f1e0b4" stroke-width="2.4" stroke-linecap="round"/><path d="M242.1,671.5 L254.1,675.5" stroke="#2b2218" stroke-width="4.6" stroke-linecap="round"/><path d="M242.1,671.5 L254.1,675.5" stroke="#f1e0b4" stroke-width="2.4" stroke-linecap="round"/><ellipse cx="238.1" cy="670" rx="9.6" ry="6.8" fill="url(#gang)" stroke="#2b2218" stroke-width="1.5" transform="rotate(10 238.1 670)"/><path d="M213.9,689.5 L234.1,690.5" stroke="#2b2218" stroke-width="4.6" stroke-linecap="round"/><path d="M213.9,689.5 L234.1,690.5" stroke="#f1e0b4" stroke-width="2.4" stroke-linecap="round"/><path d="M242.1,693.5 L254.1,697.5" stroke="#2b2218" stroke-width="4.6" stroke-linecap="round"/><path d="M242.1,693.5 L254.1,697.5" stroke="#f1e0b4" stroke-width="2.4" stroke-linecap="round"/><ellipse cx="238.1" cy="692" rx="9.6" ry="6.8" fill="url(#gang)" stroke="#2b2218" stroke-width="1.5" transform="rotate(10 238.1 692)"/><path d="M215.4,712.6 L236.1,713.6" stroke="#2b2218" stroke-width="4.6" stroke-linecap="round"/><path d="M215.4,712.6 L236.1,713.6" stroke="#f1e0b4" stroke-width="2.4" stroke-linecap="round"/><path d="M244.1,716.6 L256.1,720.6" stroke="#2b2218" stroke-width="4.6" stroke-linecap="round"/><path d="M244.1,716.6 L256.1,720.6" stroke="#f1e0b4" stroke-width="2.4" stroke-linecap="round"/><ellipse cx="240.1" cy="715.1" rx="9.6" ry="6.8" fill="url(#gang)" stroke="#2b2218" stroke-width="1.5" transform="rotate(10 240.1 715.1)"/><path d="M217.3,735.7 L240.2,736.7" stroke="#2b2218" stroke-width="4.6" stroke-linecap="round"/><path d="M217.3,735.7 L240.2,736.7" stroke="#f1e0b4" stroke-width="2.4" stroke-linecap="round"/><path d="M248.2,739.7 L260.2,743.7" stroke="#2b2218" stroke-width="4.6" stroke-linecap="round"/><path d="M248.2,739.7 L260.2,743.7" stroke="#f1e0b4" stroke-width="2.4" stroke-linecap="round"/><ellipse cx="244.2" cy="738.2" rx="9.6" ry="6.8" fill="url(#gang)" stroke="#2b2218" stroke-width="1.5" transform="rotate(10 244.2 738.2)"/><path d="M221.0,758.7 L242.2,759.7" stroke="#2b2218" stroke-width="4.6" stroke-linecap="round"/><path d="M221.0,758.7 L242.2,759.7" stroke="#f1e0b4" stroke-width="2.4" stroke-linecap="round"/><path d="M250.2,762.7 L262.2,766.7" stroke="#2b2218" stroke-width="4.6" stroke-linecap="round"/><path d="M250.2,762.7 L262.2,766.7" stroke="#f1e0b4" stroke-width="2.4" stroke-linecap="round"/><ellipse cx="246.2" cy="761.2" rx="9.6" ry="6.8" fill="url(#gang)" stroke="#2b2218" stroke-width="1.5" transform="rotate(10 246.2 761.2)"/><path d="M224.5,781.8 L244.2,782.8" stroke="#2b2218" stroke-width="4.6" stroke-linecap="round"/><path d="M224.5,781.8 L244.2,782.8" stroke="#f1e0b4" stroke-width="2.4" stroke-linecap="round"/><path d="M252.2,785.8 L264.2,789.8" stroke="#2b2218" stroke-width="4.6" stroke-linecap="round"/><path d="M252.2,785.8 L264.2,789.8" stroke="#f1e0b4" stroke-width="2.4" stroke-linecap="round"/><ellipse cx="248.2" cy="784.3" rx="9.6" ry="6.8" fill="url(#gang)" stroke="#2b2218" stroke-width="1.5" transform="rotate(10 248.2 784.3)"/><path d="M227.1,807.9 L246.2,808.9" stroke="#2b2218" stroke-width="4.6" stroke-linecap="round"/><path d="M227.1,807.9 L246.2,808.9" stroke="#f1e0b4" stroke-width="2.4" stroke-linecap="round"/><path d="M254.2,811.9 L266.2,815.9" stroke="#2b2218" stroke-width="4.6" stroke-linecap="round"/><path d="M254.2,811.9 L266.2,815.9" stroke="#f1e0b4" stroke-width="2.4" stroke-linecap="round"/><ellipse cx="250.2" cy="810.4" rx="9.6" ry="6.8" fill="url(#gang)" stroke="#2b2218" stroke-width="1.5" transform="rotate(10 250.2 810.4)"/><path d="M229.4,836.9 L248.2,837.9" stroke="#2b2218" stroke-width="4.6" stroke-linecap="round"/><path d="M229.4,836.9 L248.2,837.9" stroke="#f1e0b4" stroke-width="2.4" stroke-linecap="round"/><path d="M256.2,840.9 L268.2,844.9" stroke="#2b2218" stroke-width="4.6" stroke-linecap="round"/><path d="M256.2,840.9 L268.2,844.9" stroke="#f1e0b4" stroke-width="2.4" stroke-linecap="round"/><ellipse cx="252.2" cy="839.4" rx="9.6" ry="6.8" fill="url(#gang)" stroke="#2b2218" stroke-width="1.5" transform="rotate(10 252.2 839.4)"/><path d="M229.5,867.0 L248.0,868.0" stroke="#2b2218" stroke-width="4.6" stroke-linecap="round"/><path d="M229.5,867.0 L248.0,868.0" stroke="#f1e0b4" stroke-width="2.4" stroke-linecap="round"/><path d="M256.0,871.0 L268.0,875.0" stroke="#2b2218" stroke-width="4.6" stroke-linecap="round"/><path d="M256.0,871.0 L268.0,875.0" stroke="#f1e0b4" stroke-width="2.4" stroke-linecap="round"/><ellipse cx="252" cy="869.5" rx="9.6" ry="6.8" fill="url(#gang)" stroke="#2b2218" stroke-width="1.5" transform="rotate(10 252 869.5)"/><path d="M226.3,892.9 L248.0,893.9" stroke="#2b2218" stroke-width="4.6" stroke-linecap="round"/><path d="M226.3,892.9 L248.0,893.9" stroke="#f1e0b4" stroke-width="2.4" stroke-linecap="round"/><path d="M256.0,896.9 L268.0,900.9" stroke="#2b2218" stroke-width="4.6" stroke-linecap="round"/><path d="M256.0,896.9 L268.0,900.9" stroke="#f1e0b4" stroke-width="2.4" stroke-linecap="round"/><ellipse cx="252" cy="895.4" rx="9.6" ry="6.8" fill="url(#gang)" stroke="#2b2218" stroke-width="1.5" transform="rotate(10 252 895.4)"/><path d="M219.6,919.3 L245.0,920.3" stroke="#2b2218" stroke-width="4.6" stroke-linecap="round"/><path d="M219.6,919.3 L245.0,920.3" stroke="#f1e0b4" stroke-width="2.4" stroke-linecap="round"/><path d="M253.0,923.3 L265.0,927.3" stroke="#2b2218" stroke-width="4.6" stroke-linecap="round"/><path d="M253.0,923.3 L265.0,927.3" stroke="#f1e0b4" stroke-width="2.4" stroke-linecap="round"/><ellipse cx="249" cy="921.8" rx="9.6" ry="6.8" fill="url(#gang)" stroke="#2b2218" stroke-width="1.5" transform="rotate(10 249 921.8)"/><path d="M184.9,205.1 L231.5,214.3 L265.9,226.8" fill="none" stroke="#fff" stroke-width="8" stroke-linecap="round" stroke-linejoin="round"/><path d="M184.9,205.1 L231.5,214.3 L265.9,226.8" fill="none" stroke="#2b2218" stroke-width="5.4" stroke-linecap="round" stroke-linejoin="round"/><path d="M184.9,205.1 L231.5,214.3 L265.9,226.8" fill="none" stroke="#f1e0b4" stroke-width="3" stroke-linecap="round" stroke-linejoin="round"/><ellipse cx="231.5" cy="214.3" rx="10.6" ry="8" fill="#fff" transform="rotate(8 231.5 214.3)"/><ellipse cx="231.5" cy="214.3" rx="9.2" ry="6.6" fill="url(#gang)" stroke="#2b2218" stroke-width="1.4" transform="rotate(8 231.5 214.3)"/><path d="M284.6,383.7 C286.2,382.1 290.6,377.2 294.3,374.0 C298.0,370.8 303.3,367.1 306.8,364.4 C310.3,361.7 312.7,359.0 315.4,357.6 C318.1,356.2 320.3,356.0 323.2,356.2 C326.1,356.4 329.7,357.7 332.9,358.6 C336.1,359.5 338.5,360.5 342.5,361.5 C346.5,362.5 352.2,363.3 357.0,364.4 C361.8,365.5 367.1,366.9 371.4,368.3 C375.7,369.8 379.0,371.5 383.0,373.1 C387.0,374.7 392.4,376.3 395.5,377.9 C398.6,379.5 400.4,381.0 401.3,382.5 C402.2,384.0 401.8,385.7 401.0,387.0 C400.2,388.3 398.2,389.4 396.5,390.5 C394.8,391.6 392.9,392.6 390.7,393.4 C388.4,394.2 386.2,394.8 383.0,395.3 C379.8,395.8 374.9,396.5 371.4,396.2 C367.8,395.9 364.0,394.5 361.7,393.4 C359.4,392.3 359.4,390.5 357.8,389.5 C356.2,388.5 356.5,388.1 352.3,387.6 C348.1,387.1 337.1,387.2 332.9,386.6 C328.7,386.0 328.7,383.9 327.1,383.7 C325.5,383.5 324.3,384.3 323.2,385.6 C322.1,386.9 321.6,389.3 320.3,391.4 C319.0,393.5 317.3,396.2 315.5,398.1 C313.7,400.0 310.7,402.2 309.7,403.0 C300,400 290,392 284.6,383.7 Z" fill="url(#skin1)" stroke="none"/><path d="M294.3,374.0 C296.4,372.4 303.3,367.1 306.8,364.4 C310.3,361.7 312.7,359.0 315.4,357.6 C318.1,356.2 320.3,356.0 323.2,356.2 C326.1,356.4 329.7,357.7 332.9,358.6 C336.1,359.5 338.5,360.5 342.5,361.5 C346.5,362.5 352.2,363.3 357.0,364.4 C361.8,365.5 367.1,366.9 371.4,368.3 C375.7,369.8 379.0,371.5 383.0,373.1 C387.0,374.7 392.4,376.3 395.5,377.9 C398.6,379.5 400.4,381.0 401.3,382.5 C402.2,384.0 401.8,385.7 401.0,387.0 C400.2,388.3 398.2,389.4 396.5,390.5 C394.8,391.6 392.9,392.6 390.7,393.4 C388.4,394.2 386.2,394.8 383.0,395.3 C379.8,395.8 374.9,396.5 371.4,396.2 C367.8,395.9 364.0,394.5 361.7,393.4 C359.4,392.3 359.4,390.5 357.8,389.5 C356.2,388.5 356.5,388.1 352.3,387.6 C348.1,387.1 337.1,387.2 332.9,386.6 C328.7,386.0 328.7,383.9 327.1,383.7 C325.5,383.5 324.3,384.3 323.2,385.6 C322.1,386.9 321.6,389.3 320.3,391.4 C319.0,393.5 316.3,397.0 315.5,398.1" fill="none" stroke="#2e2420" stroke-width="1.3"/><path d="M284.6,383.7 L294.3,374" stroke="url(#fadeL)" stroke-width="1.3"/><path d="M323.2,376 C324,380 325.1,382.7 329,384.6" fill="none" stroke="#3a2a22" stroke-width="0.9"/><path d="M359.9,377.9 L359.9,385" fill="none" stroke="#3a2a22" stroke-width="0.9"/><path d="M383,372.5 C382.5,374.5 382.5,376 383,377.5" fill="none" stroke="#3a2a22" stroke-width="0.9"/><path d="M187.7,151.6 C186.5,160 183,168 176.4,174.7 C170,181 163,187 161.8,194 C161,203 163,212 166.7,219.6 C170,228 174,240 178,252 C179,255 180,258 180,261" fill="none" stroke="#fff" stroke-width="5" stroke-linecap="round"/><path d="M183,272 C186,290 191,305 193,330 C194.5,360 194.6,380 194.6,398 C195,405 205,406 214.3,406" fill="none" stroke="#fff" stroke-width="5" stroke-linecap="round"/><path d="M294.3,389.5 C302,382 308,377 313.6,373.1 C318,369 321,366.5 325.1,366.3 C332,366 336,366.8 342.5,367.3 C350,368 356,369.5 361.8,371.1 C368,373 372,375 376.3,376.9 C380,379 383,382 385.9,383.7" fill="none" stroke="#fbe9dc" stroke-width="4" stroke-linecap="round"/><path d="M187.7,151.6 C186.5,160 183,168 176.4,174.7 C170,181 163,187 161.8,194 C161,203 163,212 166.7,219.6 C170,228 174,240 178,252 C179,255 180,258 180,261" fill="none" stroke="#c8662a" stroke-width="2.4" stroke-linecap="round"/><path d="M183,272 C186,290 191,305 193,330 C194.5,360 194.6,380 194.6,398 C195,405 205,406 214.3,406" fill="none" stroke="#c8662a" stroke-width="2.4" stroke-linecap="round"/><path d="M214.3,406 C230,408 245,412 264,423 C268,419 285,400 294.3,389.5 C302,382 308,377 313.6,373.1 C318,369 321,366.5 325.1,366.3 C332,366 336,366.8 342.5,367.3 C350,368 356,369.5 361.8,371.1 C368,373 372,375 376.3,376.9 C380,379 383,382 385.9,383.7 C390,385.5 394,386 398.4,386.6" fill="none" stroke="#c8662a" stroke-width="2" stroke-linecap="round" stroke-linejoin="round"/><path d="M373.4,387.5 C378,386.6 381,386 386,384.7 M379,386.6 L380,389.5 M386.9,386.6 L386.9,390.5 M391.7,386.6 L390.7,390.5" fill="none" stroke="#c8662a" stroke-width="1"/><path d="M187.7,151.6 L183.5,147.4 M187.7,151.6 L192.4,148.5" fill="none" stroke="#fff" stroke-width="5" stroke-linecap="round"/><path d="M187.7,151.6 L183.5,147.4 M187.7,151.6 L192.4,148.5" fill="none" stroke="#c8662a" stroke-width="2.4" stroke-linecap="round"/><path d="M183,272 L178.5,267 M183,272 L187.5,267.5" fill="none" stroke="#fff" stroke-width="5" stroke-linecap="round"/><path d="M183,272 L178.5,267 M183,272 L187.5,267.5" fill="none" stroke="#c8662a" stroke-width="2.3" stroke-linecap="round"/><circle cx="180" cy="261.5" r="3.6" fill="#c8662a" stroke="#fff" stroke-width="1"/><path d="M188.7,142.7 C195,135 206,122 211.5,108 C213,100 210,92 204.5,87.1" fill="none" stroke="#fff" stroke-width="4.5" stroke-linecap="round"/><path d="M204.5,87.1 L198.6,89.7 M204.5,87.1 L206.2,82.5" fill="none" stroke="#fff" stroke-width="4.5" stroke-linecap="round"/><path d="M188.7,142.7 C195,135 206,122 211.5,108 C213,100 210,92 204.5,87.1" fill="none" stroke="#2e5ea8" stroke-width="1.9" stroke-linecap="round"/><path d="M204.5,87.1 L198.6,89.7 M204.5,87.1 L206.2,82.5" fill="none" stroke="#2e5ea8" stroke-width="1.9" stroke-linecap="round"/><circle cx="188.7" cy="142.7" r="3.6" fill="#2e5ea8" stroke="#fff" stroke-width="1.2"/><path d="M212,65.5 L306.5,42.9" fill="none" stroke="#fff" stroke-width="5.5" stroke-linecap="round" stroke-linejoin="round"/><path d="M212,65.5 L306.5,42.9" fill="none" stroke="#1a1718" stroke-width="2.2" stroke-linecap="butt" stroke-linejoin="miter"/><path d="M203,144 L308.6,102.9" fill="none" stroke="#fff" stroke-width="5.5" stroke-linecap="round" stroke-linejoin="round"/><path d="M203,144 L308.6,102.9" fill="none" stroke="#1a1718" stroke-width="2.2" stroke-linecap="butt" stroke-linejoin="miter"/><path d="M180,196 L306.5,150" fill="none" stroke="#fff" stroke-width="5.5" stroke-linecap="round" stroke-linejoin="round"/><path d="M180,196 L306.5,150" fill="none" stroke="#1a1718" stroke-width="2.2" stroke-linecap="butt" stroke-linejoin="miter"/><path d="M236,210.5 L306.5,195" fill="none" stroke="#fff" stroke-width="5.5" stroke-linecap="round" stroke-linejoin="round"/><path d="M236,210.5 L306.5,195" fill="none" stroke="#1a1718" stroke-width="2.2" stroke-linecap="butt" stroke-linejoin="miter"/><path d="M274.4,421 L308.2,454.7" fill="none" stroke="#1a1718" stroke-width="2.2" stroke-linecap="butt" stroke-linejoin="miter"/><path d="M234.3,516 L306,541.3 L236.4,604.6" fill="none" stroke="#1a1718" stroke-width="2.2" stroke-linecap="butt" stroke-linejoin="miter"/><rect x="176" y="345.5" width="240.5" height="89" fill="none" stroke="#1a1718" stroke-width="2.2"/><path d="M416.5,343.1 C420.1,337.9 428.9,322.0 437.9,311.9 C446.9,301.8 459.8,290.5 470.7,282.3 C481.6,274.1 492.7,268.4 503.6,262.6 C514.6,256.9 525.5,251.9 536.4,247.8 C547.3,243.7 559.3,240.2 569.3,237.9 C579.3,235.6 591.9,234.5 596.4,233.8 L596.4,224 L624.3,244.5 L596.4,264.2 L596.4,254.4 C591.9,254.5 579.3,254.1 569.3,255.2 C559.3,256.3 547.3,258.0 536.4,260.9 C525.5,263.8 514.6,267.5 503.6,272.4 C492.7,277.3 481.6,282.8 470.7,290.5 C459.8,298.2 446.9,309.6 437.9,318.4 C428.9,327.2 420.1,339.0 416.5,343.1 Z" fill="#cbcbcb" stroke="#262626" stroke-width="1.5" stroke-linejoin="miter"/><path d="M157.7,287.7 L123.3,287.7 Q119.3,287.7 119.3,291.7 L119.3,343.3 Q119.3,348.3 110.3,348.3 Q119.3,348.3 119.3,353.3 L119.3,409.3 Q119.3,413.3 123.3,413.3 L151.5,413.3" fill="none" stroke="#1a1718" stroke-width="2.3"/><path d="M151.5,413.3 L123.3,413.3 Q119.3,413.3 119.3,417.3 L119.3,540.6 Q119.3,545.6 110.3,545.6 Q119.3,545.6 119.3,550.6 L119.3,675.2 Q119.3,679.2 123.3,679.2 L144.4,679.2" fill="none" stroke="#1a1718" stroke-width="2.3"/><path d="M144.4,679.2 L123.3,679.2 Q119.3,679.2 119.3,683.2 L119.3,733.4 Q119.3,738.4 110.3,738.4 Q119.3,738.4 119.3,743.4 L119.3,793.4 Q119.3,797.4 123.3,797.4 L133.8,797.4" fill="none" stroke="#1a1718" stroke-width="2.3"/><path d="M133.8,797.4 L123.3,797.4 Q119.3,797.4 119.3,801.4 L119.3,861.7 Q119.3,866.7 110.3,866.7 Q119.3,866.7 119.3,871.7 L119.3,933.3 Q119.3,937.3 123.3,937.3 L160.2,937.3" fill="none" stroke="#1a1718" stroke-width="2.3"/><text x="312" y="25.1" textLength="173.6" lengthAdjust="spacingAndGlyphs" font-weight="700" font-size="24" stroke="#1a1718" stroke-width="0.35">Cerebral cortex</text><text x="312" y="51.1" textLength="241.5" lengthAdjust="spacingAndGlyphs" font-weight="400" font-size="24" stroke="#1a1718" stroke-width="0.75">Somatic sensory cortex</text><text x="312" y="106.2" textLength="105" lengthAdjust="spacingAndGlyphs" font-weight="400" font-size="24" stroke="#1a1718" stroke-width="0.75">Thalamus</text><text x="312.5" y="154.1" textLength="114.3" lengthAdjust="spacingAndGlyphs" font-weight="700" font-size="24" stroke="#1a1718" stroke-width="0.35">Brainstem</text><text x="312" y="200.6" textLength="200.3" lengthAdjust="spacingAndGlyphs" font-weight="400" font-size="24" stroke="#1a1718" stroke-width="0.75">Trigeminal ganglia</text><text x="312" y="226.6" textLength="191.3" lengthAdjust="spacingAndGlyphs" font-weight="400" font-size="24" stroke="#1a1718" stroke-width="0.75">(sensory receptors</text><text x="312" y="251.6" textLength="85.5" lengthAdjust="spacingAndGlyphs" font-weight="400" font-size="24" stroke="#1a1718" stroke-width="0.75">for face)</text><text x="8.9" y="272.6" textLength="126.8" lengthAdjust="spacingAndGlyphs" font-weight="700" font-size="24" stroke="#1a1718" stroke-width="0.35">Spinal cord</text><text x="14.4" y="357.2" textLength="86.4" lengthAdjust="spacingAndGlyphs" font-weight="400" font-size="24" stroke="#1a1718" stroke-width="0.75">Cervical</text><text x="8.9" y="549.9" textLength="90.7" lengthAdjust="spacingAndGlyphs" font-weight="400" font-size="24" stroke="#1a1718" stroke-width="0.75">Thoracic</text><text x="15.2" y="742.7" textLength="82.7" lengthAdjust="spacingAndGlyphs" font-weight="400" font-size="24" stroke="#1a1718" stroke-width="0.75">Lumbar</text><text x="33.4" y="873.7" textLength="62.7" lengthAdjust="spacingAndGlyphs" font-weight="400" font-size="24" stroke="#1a1718" stroke-width="0.75">Sacral</text><text x="317.9" y="468.5" textLength="176.7" lengthAdjust="spacingAndGlyphs" font-weight="400" font-size="24" stroke="#1a1718" stroke-width="0.75">Sensory receptor</text><text x="318" y="550.2" textLength="118.8" lengthAdjust="spacingAndGlyphs" font-weight="400" font-size="24" stroke="#1a1718" stroke-width="0.75">Dorsal root</text><text x="318" y="575.7" textLength="173" lengthAdjust="spacingAndGlyphs" font-weight="400" font-size="24" stroke="#1a1718" stroke-width="0.75">ganglia (sensory</text><text x="318" y="602.1" textLength="132.9" lengthAdjust="spacingAndGlyphs" font-weight="400" font-size="24" stroke="#1a1718" stroke-width="0.75">receptors for</text><text x="318" y="627.8" textLength="60" lengthAdjust="spacingAndGlyphs" font-weight="400" font-size="24" stroke="#1a1718" stroke-width="0.75">body)</text><text x="1018.7" y="40.1" textLength="118.3" lengthAdjust="spacingAndGlyphs" font-weight="400" font-size="24" stroke="#1a1718" stroke-width="0.75">Dorsal root</text><text x="1018.7" y="65.0" textLength="147" lengthAdjust="spacingAndGlyphs" font-weight="400" font-size="24" stroke="#1a1718" stroke-width="0.75">ganglion cells</text><text x="1112.4" y="112.2" textLength="178.3" lengthAdjust="spacingAndGlyphs" font-weight="400" font-size="24" stroke="#1a1718" stroke-width="0.75">Mechanosensory</text><text x="1112.4" y="137.0" textLength="140.3" lengthAdjust="spacingAndGlyphs" font-weight="400" font-size="24" stroke="#1a1718" stroke-width="0.75">afferent fiber</text><text x="1023.4" y="294.3" textLength="227.5" lengthAdjust="spacingAndGlyphs" font-weight="400" font-size="24" stroke="#1a1718" stroke-width="0.75">Pain and temperature</text><text x="1023.4" y="319.4" textLength="140" lengthAdjust="spacingAndGlyphs" font-weight="400" font-size="24" stroke="#1a1718" stroke-width="0.75">afferent fiber</text><text x="1282.9" y="290.9" textLength="93.7" lengthAdjust="spacingAndGlyphs" font-weight="400" font-size="24" stroke="#1a1718" stroke-width="0.75">Receptor</text><text x="1282.9" y="315.7" textLength="83.7" lengthAdjust="spacingAndGlyphs" font-weight="400" font-size="24" stroke="#1a1718" stroke-width="0.75">endings</text></svg>
</body></html>
